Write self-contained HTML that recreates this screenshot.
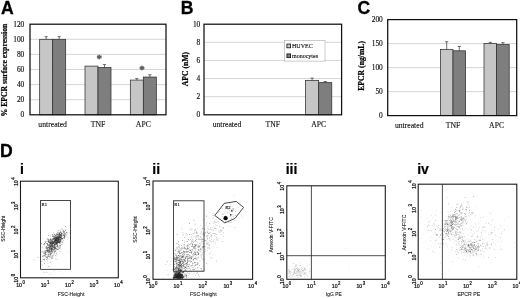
<!DOCTYPE html><html><head><meta charset="utf-8"><title>Figure</title><style>html,body{margin:0;padding:0;background:#fff}svg{display:block}.s{font-family:"Liberation Serif",serif}.a{font-family:"Liberation Sans",sans-serif}</style></head><body>
<svg width="520" height="298" viewBox="0 0 520 298">
<rect width="520" height="298" fill="#fff"/>
<text class="a" x="0.9" y="13.9" font-size="17.6" font-weight="bold" fill="#000" stroke="#000" stroke-width="0.3">A</text>
<line x1="30" y1="99.70" x2="166" y2="99.70" stroke="#c4c4c4" stroke-width="0.7"/>
<line x1="30" y1="84.60" x2="166" y2="84.60" stroke="#c4c4c4" stroke-width="0.7"/>
<line x1="30" y1="69.50" x2="166" y2="69.50" stroke="#c4c4c4" stroke-width="0.7"/>
<line x1="30" y1="54.40" x2="166" y2="54.40" stroke="#c4c4c4" stroke-width="0.7"/>
<line x1="30" y1="39.30" x2="166" y2="39.30" stroke="#c4c4c4" stroke-width="0.7"/>
<text class="s" x="24.3" y="117.40" font-size="7.4" text-anchor="end" fill="#111" stroke="#111" stroke-width="0.15">0</text>
<text class="s" x="24.3" y="102.30" font-size="7.4" text-anchor="end" fill="#111" stroke="#111" stroke-width="0.15">20</text>
<text class="s" x="24.3" y="87.20" font-size="7.4" text-anchor="end" fill="#111" stroke="#111" stroke-width="0.15">40</text>
<text class="s" x="24.3" y="72.10" font-size="7.4" text-anchor="end" fill="#111" stroke="#111" stroke-width="0.15">60</text>
<text class="s" x="24.3" y="57.00" font-size="7.4" text-anchor="end" fill="#111" stroke="#111" stroke-width="0.15">80</text>
<text class="s" x="24.3" y="41.90" font-size="7.4" text-anchor="end" fill="#111" stroke="#111" stroke-width="0.15">100</text>
<text class="s" x="24.3" y="26.80" font-size="7.4" text-anchor="end" fill="#111" stroke="#111" stroke-width="0.15">120</text>
<rect x="39.67" y="39.30" width="13" height="75.50" fill="#c6c6c6" stroke="#303030" stroke-width="0.75"/>
<path d="M46.17 39.30V36.66M44.57 36.66H47.77" stroke="#333" stroke-width="0.7" fill="none"/>
<rect x="52.67" y="39.30" width="13" height="75.50" fill="#7e7e7e" stroke="#303030" stroke-width="0.75"/>
<path d="M59.17 39.30V36.66M57.57 36.66H60.77" stroke="#333" stroke-width="0.7" fill="none"/>
<rect x="85.00" y="66.10" width="13" height="48.70" fill="#c6c6c6" stroke="#303030" stroke-width="0.75"/>
<rect x="98.00" y="67.61" width="13" height="47.19" fill="#7e7e7e" stroke="#303030" stroke-width="0.75"/>
<path d="M104.50 67.61V64.59M102.90 64.59H106.10" stroke="#333" stroke-width="0.7" fill="none"/>
<rect x="130.33" y="80.07" width="13" height="34.73" fill="#c6c6c6" stroke="#303030" stroke-width="0.75"/>
<path d="M136.83 80.07V78.56M135.23 78.56H138.43" stroke="#333" stroke-width="0.7" fill="none"/>
<rect x="143.33" y="77.05" width="13" height="37.75" fill="#7e7e7e" stroke="#303030" stroke-width="0.75"/>
<path d="M149.83 77.05V74.78M148.23 74.78H151.43" stroke="#333" stroke-width="0.7" fill="none"/>
<rect x="30" y="24.2" width="136" height="90.6" fill="none" stroke="#111" stroke-width="1.25"/>
<text class="s" x="52.67" y="127.00" font-size="7.7" text-anchor="middle" fill="#111" stroke="#111" stroke-width="0.12">untreated</text>
<text class="s" x="98.00" y="127.00" font-size="7.7" text-anchor="middle" fill="#111" stroke="#111" stroke-width="0.12">TNF</text>
<text class="s" x="143.33" y="127.00" font-size="7.7" text-anchor="middle" fill="#111" stroke="#111" stroke-width="0.12">APC</text>
<text class="s" transform="translate(6.8 70.05) rotate(-90)" font-size="7.7" font-weight="bold" text-anchor="middle" fill="#000" stroke="#000" stroke-width="0.2">% EPCR surface expression</text>
<text class="s" x="99.3" y="62.3" font-size="11" font-weight="bold" text-anchor="middle" fill="#4a4a4a" stroke="#4a4a4a" stroke-width="0.3">*</text>
<text class="s" x="142" y="72.9" font-size="11" font-weight="bold" text-anchor="middle" fill="#4a4a4a" stroke="#4a4a4a" stroke-width="0.3">*</text>
<text class="a" x="180.7" y="13.9" font-size="17.6" font-weight="bold" fill="#000" stroke="#000" stroke-width="0.3">B</text>
<line x1="204" y1="96.68" x2="341.6" y2="96.68" stroke="#c4c4c4" stroke-width="0.7"/>
<line x1="204" y1="78.56" x2="341.6" y2="78.56" stroke="#c4c4c4" stroke-width="0.7"/>
<line x1="204" y1="60.44" x2="341.6" y2="60.44" stroke="#c4c4c4" stroke-width="0.7"/>
<line x1="204" y1="42.32" x2="341.6" y2="42.32" stroke="#c4c4c4" stroke-width="0.7"/>
<text class="s" x="200.3" y="117.40" font-size="7.4" text-anchor="end" fill="#111" stroke="#111" stroke-width="0.15">0</text>
<text class="s" x="200.3" y="99.28" font-size="7.4" text-anchor="end" fill="#111" stroke="#111" stroke-width="0.15">2</text>
<text class="s" x="200.3" y="81.16" font-size="7.4" text-anchor="end" fill="#111" stroke="#111" stroke-width="0.15">4</text>
<text class="s" x="200.3" y="63.04" font-size="7.4" text-anchor="end" fill="#111" stroke="#111" stroke-width="0.15">6</text>
<text class="s" x="200.3" y="44.92" font-size="7.4" text-anchor="end" fill="#111" stroke="#111" stroke-width="0.15">8</text>
<text class="s" x="200.3" y="26.80" font-size="7.4" text-anchor="end" fill="#111" stroke="#111" stroke-width="0.15">10</text>
<rect x="305.57" y="80.37" width="13.1" height="34.43" fill="#c6c6c6" stroke="#303030" stroke-width="0.75"/>
<path d="M312.12 80.37V78.11M310.52 78.11H313.72" stroke="#333" stroke-width="0.7" fill="none"/>
<rect x="318.67" y="82.64" width="13.1" height="32.16" fill="#7e7e7e" stroke="#303030" stroke-width="0.75"/>
<path d="M325.22 82.64V81.55M323.62 81.55H326.82" stroke="#333" stroke-width="0.7" fill="none"/>
<rect x="204" y="24.2" width="137.60000000000002" height="90.6" fill="none" stroke="#111" stroke-width="1.25"/>
<text class="s" x="226.93" y="127.00" font-size="7.7" text-anchor="middle" fill="#111" stroke="#111" stroke-width="0.12">untreated</text>
<text class="s" x="272.80" y="127.00" font-size="7.7" text-anchor="middle" fill="#111" stroke="#111" stroke-width="0.12">TNF</text>
<text class="s" x="318.67" y="127.00" font-size="7.7" text-anchor="middle" fill="#111" stroke="#111" stroke-width="0.12">APC</text>
<text class="s" transform="translate(187.8 69.15) rotate(-90)" font-size="7.7" font-weight="bold" text-anchor="middle" fill="#000" stroke="#000" stroke-width="0.2">APC (nM)</text>
<rect x="284.3" y="40.6" width="40.7" height="20.5" fill="#fff" stroke="#aaa" stroke-width="0.6"/>
<rect x="286.9" y="44.1" width="3.7" height="3.7" fill="#c6c6c6" stroke="#111" stroke-width="0.8"/>
<rect x="286.9" y="53.9" width="3.7" height="3.7" fill="#7e7e7e" stroke="#111" stroke-width="0.8"/>
<text class="s" x="292" y="48" font-size="6" fill="#111" stroke="#111" stroke-width="0.12">HUVEC</text>
<text class="s" x="292" y="57.8" font-size="6" fill="#111" stroke="#111" stroke-width="0.12">monocytes</text>
<text class="a" x="357.4" y="13.9" font-size="17.6" font-weight="bold" fill="#000" stroke="#000" stroke-width="0.3">C</text>
<line x1="387.7" y1="91.60" x2="516.7" y2="91.60" stroke="#c4c4c4" stroke-width="0.7"/>
<line x1="387.7" y1="67.60" x2="516.7" y2="67.60" stroke="#c4c4c4" stroke-width="0.7"/>
<line x1="387.7" y1="43.60" x2="516.7" y2="43.60" stroke="#c4c4c4" stroke-width="0.7"/>
<text class="s" x="382.8" y="118.20" font-size="7.4" text-anchor="end" fill="#111" stroke="#111" stroke-width="0.15">0</text>
<text class="s" x="382.8" y="94.20" font-size="7.4" text-anchor="end" fill="#111" stroke="#111" stroke-width="0.15">50</text>
<text class="s" x="382.8" y="70.20" font-size="7.4" text-anchor="end" fill="#111" stroke="#111" stroke-width="0.15">100</text>
<text class="s" x="382.8" y="46.20" font-size="7.4" text-anchor="end" fill="#111" stroke="#111" stroke-width="0.15">150</text>
<text class="s" x="382.8" y="22.20" font-size="7.4" text-anchor="end" fill="#111" stroke="#111" stroke-width="0.15">200</text>
<rect x="440.40" y="49.36" width="12.6" height="66.24" fill="#c6c6c6" stroke="#303030" stroke-width="0.75"/>
<path d="M446.70 49.36V41.68M445.10 41.68H448.30" stroke="#333" stroke-width="0.7" fill="none"/>
<rect x="453.00" y="50.80" width="12.6" height="64.80" fill="#7e7e7e" stroke="#303030" stroke-width="0.75"/>
<path d="M459.30 50.80V46.48M457.70 46.48H460.90" stroke="#333" stroke-width="0.7" fill="none"/>
<rect x="484.00" y="43.60" width="12.6" height="72.00" fill="#c6c6c6" stroke="#303030" stroke-width="0.75"/>
<path d="M490.30 43.60V42.40M488.70 42.40H491.90" stroke="#333" stroke-width="0.7" fill="none"/>
<rect x="496.60" y="44.56" width="12.6" height="71.04" fill="#7e7e7e" stroke="#303030" stroke-width="0.75"/>
<path d="M502.90 44.56V42.64M501.30 42.64H504.50" stroke="#333" stroke-width="0.7" fill="none"/>
<rect x="387.7" y="19.6" width="129.00000000000006" height="96.0" fill="none" stroke="#111" stroke-width="1.25"/>
<text class="s" x="409.20" y="127.80" font-size="7.7" text-anchor="middle" fill="#111" stroke="#111" stroke-width="0.12">untreated</text>
<text class="s" x="453.00" y="127.80" font-size="7.7" text-anchor="middle" fill="#111" stroke="#111" stroke-width="0.12">TNF</text>
<text class="s" x="496.60" y="127.80" font-size="7.7" text-anchor="middle" fill="#111" stroke="#111" stroke-width="0.12">APC</text>
<text class="s" transform="translate(364 65.9) rotate(-90)" font-size="7.7" font-weight="bold" text-anchor="middle" fill="#000" stroke="#000" stroke-width="0.2">EPCR (ng/mL)</text>
<text class="a" x="-0.1" y="157.2" font-size="17.6" font-weight="bold" fill="#000" stroke="#000" stroke-width="0.3">D</text>
<text class="a" x="20.0" y="173.8" font-size="14" font-weight="bold" fill="#000" stroke="#000" stroke-width="0.2">i</text>
<text class="a" x="152.3" y="173.8" font-size="14" font-weight="bold" fill="#000" stroke="#000" stroke-width="0.2">ii</text>
<text class="a" x="285.7" y="173.8" font-size="14" font-weight="bold" fill="#000" stroke="#000" stroke-width="0.2">iii</text>
<text class="a" x="417.2" y="173.8" font-size="14" font-weight="bold" fill="#000" stroke="#000" stroke-width="0.2">iv</text>
<path fill="#222" opacity="0.125" d="M53.7 250.4h.7v.7h-.7zM54.1 246.2h.7v.7h-.7zM57.5 244.5h.7v.7h-.7zM74.3 241.0h.7v.7h-.7zM48.3 274.8h.7v.7h-.7zM49.4 274.1h.7v.7h-.7z"/>
<path fill="#222" opacity="0.25" d="M44.1 259.0h.7v.7h-.7zM52.6 248.8h.7v.7h-.7zM57.3 239.3h.7v.7h-.7zM50.5 239.0h.7v.7h-.7zM49.5 247.9h.7v.7h-.7zM50.6 241.5h.7v.7h-.7zM50.3 254.8h.7v.7h-.7zM52.2 248.1h.7v.7h-.7zM57.4 234.0h.7v.7h-.7zM44.4 251.5h.7v.7h-.7zM54.0 247.0h.7v.7h-.7zM52.5 258.5h.7v.7h-.7zM55.5 259.5h.7v.7h-.7zM52.0 248.4h.7v.7h-.7zM52.7 249.2h.7v.7h-.7zM56.2 252.9h.7v.7h-.7zM42.3 256.7h.7v.7h-.7zM51.3 238.7h.7v.7h-.7zM48.6 246.2h.7v.7h-.7zM51.0 241.7h.7v.7h-.7zM50.5 247.2h.7v.7h-.7zM49.2 242.1h.7v.7h-.7zM56.5 239.6h.7v.7h-.7zM49.6 246.5h.7v.7h-.7zM49.5 250.5h.7v.7h-.7zM58.5 246.4h.7v.7h-.7zM55.3 254.4h.7v.7h-.7zM58.9 250.5h.7v.7h-.7zM51.6 255.4h.7v.7h-.7zM54.6 246.5h.7v.7h-.7zM46.6 249.5h.7v.7h-.7zM45.6 248.2h.7v.7h-.7zM54.2 244.5h.7v.7h-.7zM59.6 244.3h.7v.7h-.7zM46.1 251.9h.7v.7h-.7zM49.8 251.7h.7v.7h-.7zM41.8 265.2h.7v.7h-.7zM55.3 250.4h.7v.7h-.7zM43.7 255.7h.7v.7h-.7zM57.4 241.4h.7v.7h-.7zM47.4 250.1h.7v.7h-.7zM52.3 239.8h.7v.7h-.7zM61.3 228.3h.7v.7h-.7zM44.6 253.1h.7v.7h-.7zM52.1 250.9h.7v.7h-.7zM55.8 243.4h.7v.7h-.7zM46.6 246.7h.7v.7h-.7zM41.0 261.3h.7v.7h-.7zM41.2 253.6h.7v.7h-.7zM44.7 243.8h.7v.7h-.7zM41.9 237.9h.7v.7h-.7zM52.8 251.3h.7v.7h-.7zM61.4 244.1h.7v.7h-.7zM68.5 251.7h.7v.7h-.7zM41.6 263.7h.7v.7h-.7zM49.3 244.7h.7v.7h-.7zM63.6 242.7h.7v.7h-.7zM52.1 248.7h.7v.7h-.7zM45.8 253.9h.7v.7h-.7zM56.0 256.4h.7v.7h-.7zM62.5 253.8h.7v.7h-.7zM58.9 271.6h.7v.7h-.7zM50.8 245.8h.7v.7h-.7zM42.1 251.6h.7v.7h-.7zM47.1 272.1h.7v.7h-.7zM62.8 273.4h.7v.7h-.7zM49.5 271.9h.7v.7h-.7zM51.1 274.2h.7v.7h-.7zM46.5 271.6h.7v.7h-.7zM45.2 272.6h.7v.7h-.7zM53.7 270.5h.7v.7h-.7z"/>
<path fill="#222" opacity="0.375" d="M61.4 235.7h.7v.7h-.7zM55.0 241.4h.7v.7h-.7zM51.0 248.1h.7v.7h-.7zM60.5 238.5h.7v.7h-.7zM54.1 244.0h.7v.7h-.7zM54.7 240.2h.7v.7h-.7zM60.2 237.4h.7v.7h-.7zM52.1 244.8h.7v.7h-.7zM56.3 237.6h.7v.7h-.7zM52.2 243.4h.7v.7h-.7zM49.4 241.4h.7v.7h-.7zM53.8 241.5h.7v.7h-.7zM57.8 241.7h.7v.7h-.7zM48.4 245.5h.7v.7h-.7zM59.4 237.4h.7v.7h-.7zM51.2 241.7h.7v.7h-.7zM59.5 237.9h.7v.7h-.7zM55.3 237.7h.7v.7h-.7zM49.3 244.3h.7v.7h-.7zM59.3 236.7h.7v.7h-.7zM47.5 249.9h.7v.7h-.7zM54.0 243.7h.7v.7h-.7zM57.1 240.8h.7v.7h-.7zM56.3 242.6h.7v.7h-.7zM59.6 240.1h.7v.7h-.7zM50.1 242.4h.7v.7h-.7zM56.6 243.6h.7v.7h-.7zM64.9 229.4h.7v.7h-.7zM58.6 234.6h.7v.7h-.7zM56.2 245.9h.7v.7h-.7zM52.7 236.3h.7v.7h-.7zM53.9 243.3h.7v.7h-.7zM49.2 245.1h.7v.7h-.7zM52.9 240.6h.7v.7h-.7zM58.7 238.8h.7v.7h-.7zM51.8 245.3h.7v.7h-.7zM52.8 240.6h.7v.7h-.7zM57.4 239.2h.7v.7h-.7zM53.8 249.3h.7v.7h-.7zM55.9 234.2h.7v.7h-.7zM56.2 242.3h.7v.7h-.7zM56.8 240.3h.7v.7h-.7zM44.6 242.6h.7v.7h-.7zM53.6 233.8h.7v.7h-.7zM49.9 244.5h.7v.7h-.7zM58.5 236.7h.7v.7h-.7zM52.0 243.5h.7v.7h-.7zM64.4 232.7h.7v.7h-.7zM54.4 241.7h.7v.7h-.7zM52.1 250.0h.7v.7h-.7zM52.6 243.2h.7v.7h-.7zM55.3 239.9h.7v.7h-.7zM60.1 243.3h.7v.7h-.7zM63.8 234.0h.7v.7h-.7zM56.3 242.3h.7v.7h-.7zM59.9 240.6h.7v.7h-.7zM57.5 237.2h.7v.7h-.7zM57.1 239.3h.7v.7h-.7zM62.3 228.9h.7v.7h-.7zM57.5 239.9h.7v.7h-.7zM52.1 234.0h.7v.7h-.7zM65.3 234.0h.7v.7h-.7zM60.5 240.0h.7v.7h-.7zM58.9 240.2h.7v.7h-.7zM56.3 244.2h.7v.7h-.7zM45.6 251.2h.7v.7h-.7zM59.9 234.2h.7v.7h-.7zM55.4 239.9h.7v.7h-.7zM53.4 238.8h.7v.7h-.7zM55.9 251.9h.7v.7h-.7zM52.3 255.6h.7v.7h-.7zM41.7 246.7h.7v.7h-.7zM50.3 248.4h.7v.7h-.7zM47.6 252.5h.7v.7h-.7zM46.5 250.5h.7v.7h-.7zM57.8 247.9h.7v.7h-.7zM44.6 256.1h.7v.7h-.7zM51.0 248.9h.7v.7h-.7zM48.5 255.0h.7v.7h-.7zM61.9 228.6h.7v.7h-.7zM54.2 244.2h.7v.7h-.7zM48.7 246.8h.7v.7h-.7zM53.9 247.7h.7v.7h-.7zM44.0 250.6h.7v.7h-.7zM44.7 246.6h.7v.7h-.7zM51.8 251.1h.7v.7h-.7zM51.3 245.2h.7v.7h-.7zM48.8 244.0h.7v.7h-.7zM55.6 249.9h.7v.7h-.7zM43.5 251.6h.7v.7h-.7zM48.4 242.0h.7v.7h-.7zM41.9 260.8h.7v.7h-.7zM59.3 248.3h.7v.7h-.7zM47.8 238.6h.7v.7h-.7zM59.0 242.9h.7v.7h-.7zM47.9 244.9h.7v.7h-.7zM58.5 233.3h.7v.7h-.7zM46.6 257.3h.7v.7h-.7zM49.2 249.3h.7v.7h-.7zM54.4 252.9h.7v.7h-.7zM52.9 242.9h.7v.7h-.7zM54.4 240.5h.7v.7h-.7zM45.4 256.0h.7v.7h-.7zM53.1 246.9h.7v.7h-.7zM48.5 253.4h.7v.7h-.7zM51.2 251.6h.7v.7h-.7zM56.7 259.4h.7v.7h-.7zM48.0 246.9h.7v.7h-.7zM44.4 258.4h.7v.7h-.7zM45.2 254.6h.7v.7h-.7zM47.1 251.9h.7v.7h-.7zM42.6 251.1h.7v.7h-.7zM46.3 259.4h.7v.7h-.7zM49.7 248.1h.7v.7h-.7zM52.8 246.8h.7v.7h-.7zM50.0 251.6h.7v.7h-.7zM42.6 259.0h.7v.7h-.7zM54.9 247.7h.7v.7h-.7zM49.4 243.5h.7v.7h-.7zM54.0 248.4h.7v.7h-.7zM57.9 240.5h.7v.7h-.7zM47.6 263.4h.7v.7h-.7zM54.2 240.5h.7v.7h-.7zM44.1 255.3h.7v.7h-.7zM50.8 249.7h.7v.7h-.7zM42.8 248.4h.7v.7h-.7zM56.6 253.0h.7v.7h-.7zM51.7 246.7h.7v.7h-.7zM49.2 239.1h.7v.7h-.7zM42.0 246.8h.7v.7h-.7zM49.8 254.0h.7v.7h-.7zM46.4 248.6h.7v.7h-.7zM57.2 246.0h.7v.7h-.7zM54.8 245.9h.7v.7h-.7zM51.7 248.5h.7v.7h-.7zM52.6 250.1h.7v.7h-.7zM49.9 235.6h.7v.7h-.7zM48.8 259.3h.7v.7h-.7zM58.8 242.2h.7v.7h-.7zM55.8 242.7h.7v.7h-.7zM45.0 252.3h.7v.7h-.7zM49.3 246.9h.7v.7h-.7zM54.1 238.5h.7v.7h-.7zM60.3 243.0h.7v.7h-.7zM50.7 247.1h.7v.7h-.7zM49.7 247.0h.7v.7h-.7zM55.2 244.5h.7v.7h-.7zM44.6 252.1h.7v.7h-.7zM56.4 240.5h.7v.7h-.7zM43.3 256.3h.7v.7h-.7zM46.1 254.1h.7v.7h-.7zM53.6 250.0h.7v.7h-.7zM45.9 256.5h.7v.7h-.7zM52.1 247.9h.7v.7h-.7zM47.8 249.7h.7v.7h-.7zM33.5 259.7h.7v.7h-.7zM54.3 249.5h.7v.7h-.7zM51.0 242.7h.7v.7h-.7zM47.2 257.7h.7v.7h-.7zM47.8 249.0h.7v.7h-.7zM55.6 258.1h.7v.7h-.7zM56.5 245.4h.7v.7h-.7zM56.6 250.5h.7v.7h-.7zM49.2 247.7h.7v.7h-.7zM53.2 247.3h.7v.7h-.7zM43.8 272.2h.7v.7h-.7zM46.8 255.2h.7v.7h-.7zM52.8 244.9h.7v.7h-.7zM53.7 243.3h.7v.7h-.7zM52.4 246.3h.7v.7h-.7zM53.7 246.4h.7v.7h-.7zM56.8 248.8h.7v.7h-.7zM59.3 247.1h.7v.7h-.7zM57.4 246.2h.7v.7h-.7z"/>
<path fill="#222" opacity="0.5" d="M64.8 232.7h.7v.7h-.7zM58.1 239.0h.7v.7h-.7zM57.7 238.5h.7v.7h-.7zM52.6 239.9h.7v.7h-.7zM51.3 242.6h.7v.7h-.7zM55.2 235.3h.7v.7h-.7zM60.9 235.3h.7v.7h-.7zM58.5 239.0h.7v.7h-.7zM57.8 240.0h.7v.7h-.7zM56.2 239.6h.7v.7h-.7zM58.3 233.9h.7v.7h-.7zM60.1 237.5h.7v.7h-.7zM60.2 234.1h.7v.7h-.7zM57.6 241.6h.7v.7h-.7zM56.2 234.2h.7v.7h-.7zM59.6 236.6h.7v.7h-.7zM55.2 242.5h.7v.7h-.7zM54.1 237.7h.7v.7h-.7zM61.3 232.4h.7v.7h-.7zM61.7 233.3h.7v.7h-.7zM56.3 237.3h.7v.7h-.7zM52.8 242.1h.7v.7h-.7zM60.0 229.6h.7v.7h-.7zM55.7 242.1h.7v.7h-.7zM55.6 240.5h.7v.7h-.7zM57.2 240.3h.7v.7h-.7zM59.1 237.4h.7v.7h-.7zM56.7 244.8h.7v.7h-.7zM53.6 242.3h.7v.7h-.7zM53.3 238.0h.7v.7h-.7zM47.1 239.6h.7v.7h-.7zM56.9 241.5h.7v.7h-.7zM57.1 238.9h.7v.7h-.7zM57.8 235.5h.7v.7h-.7zM51.1 239.8h.7v.7h-.7zM56.8 240.4h.7v.7h-.7zM51.5 239.4h.7v.7h-.7zM65.0 235.6h.7v.7h-.7zM53.6 243.2h.7v.7h-.7zM59.1 233.0h.7v.7h-.7zM56.4 241.3h.7v.7h-.7zM64.3 235.3h.7v.7h-.7zM58.4 236.2h.7v.7h-.7zM58.3 239.3h.7v.7h-.7zM58.9 234.5h.7v.7h-.7zM55.8 241.3h.7v.7h-.7zM52.0 243.4h.7v.7h-.7zM57.0 236.8h.7v.7h-.7zM57.0 240.5h.7v.7h-.7zM51.8 242.4h.7v.7h-.7zM55.5 240.0h.7v.7h-.7zM58.2 234.8h.7v.7h-.7zM52.6 240.0h.7v.7h-.7zM48.0 240.9h.7v.7h-.7zM53.7 237.9h.7v.7h-.7zM47.4 241.2h.7v.7h-.7zM54.5 243.7h.7v.7h-.7zM56.4 239.6h.7v.7h-.7zM58.6 236.6h.7v.7h-.7zM56.8 238.6h.7v.7h-.7zM47.1 249.4h.7v.7h-.7zM54.5 236.5h.7v.7h-.7zM53.2 239.0h.7v.7h-.7zM64.1 236.2h.7v.7h-.7zM58.4 239.9h.7v.7h-.7zM56.9 238.4h.7v.7h-.7zM57.6 235.2h.7v.7h-.7zM50.1 243.1h.7v.7h-.7zM55.4 241.9h.7v.7h-.7zM56.6 239.7h.7v.7h-.7zM54.0 239.8h.7v.7h-.7zM56.3 243.8h.7v.7h-.7zM58.1 234.9h.7v.7h-.7zM54.4 244.5h.7v.7h-.7zM62.6 238.3h.7v.7h-.7zM55.0 236.9h.7v.7h-.7zM64.0 237.9h.7v.7h-.7zM58.0 236.6h.7v.7h-.7zM49.0 240.1h.7v.7h-.7zM52.5 247.4h.7v.7h-.7zM54.6 237.4h.7v.7h-.7zM49.7 243.6h.7v.7h-.7zM57.2 238.6h.7v.7h-.7zM57.3 237.3h.7v.7h-.7zM55.7 241.5h.7v.7h-.7zM65.6 236.2h.7v.7h-.7zM51.8 243.5h.7v.7h-.7zM45.7 247.8h.7v.7h-.7zM48.9 242.0h.7v.7h-.7zM57.3 240.2h.7v.7h-.7zM55.2 236.4h.7v.7h-.7zM46.0 242.9h.7v.7h-.7zM56.4 238.9h.7v.7h-.7zM53.0 238.3h.7v.7h-.7zM66.0 234.6h.7v.7h-.7zM56.5 234.8h.7v.7h-.7zM59.4 236.6h.7v.7h-.7zM53.6 238.9h.7v.7h-.7zM51.0 247.4h.7v.7h-.7zM52.6 239.0h.7v.7h-.7zM56.3 239.6h.7v.7h-.7zM60.0 239.6h.7v.7h-.7zM55.0 235.9h.7v.7h-.7zM55.4 243.1h.7v.7h-.7zM57.5 236.5h.7v.7h-.7zM58.3 239.1h.7v.7h-.7zM55.8 243.9h.7v.7h-.7zM48.2 240.4h.7v.7h-.7zM55.8 241.0h.7v.7h-.7zM52.0 246.6h.7v.7h-.7zM59.9 234.1h.7v.7h-.7zM55.7 236.7h.7v.7h-.7zM62.3 242.5h.7v.7h-.7zM64.0 236.4h.7v.7h-.7zM58.0 241.6h.7v.7h-.7zM62.6 233.0h.7v.7h-.7zM61.0 233.1h.7v.7h-.7zM58.5 238.4h.7v.7h-.7zM55.1 237.4h.7v.7h-.7zM60.2 231.8h.7v.7h-.7zM58.4 234.2h.7v.7h-.7zM61.1 236.0h.7v.7h-.7zM48.5 240.0h.7v.7h-.7zM55.8 242.7h.7v.7h-.7zM54.8 240.8h.7v.7h-.7zM48.5 239.5h.7v.7h-.7zM52.8 250.6h.7v.7h-.7zM51.1 246.0h.7v.7h-.7zM37.6 257.3h.7v.7h-.7zM55.0 242.6h.7v.7h-.7zM58.6 230.0h.7v.7h-.7zM41.4 251.6h.7v.7h-.7zM49.3 255.9h.7v.7h-.7zM49.4 256.5h.7v.7h-.7zM55.8 236.9h.7v.7h-.7zM45.3 250.9h.7v.7h-.7zM47.5 238.8h.7v.7h-.7zM44.3 243.5h.7v.7h-.7zM51.7 240.7h.7v.7h-.7zM44.5 252.6h.7v.7h-.7zM48.9 245.9h.7v.7h-.7zM52.9 243.2h.7v.7h-.7zM45.9 248.4h.7v.7h-.7zM51.7 249.6h.7v.7h-.7zM50.9 244.8h.7v.7h-.7zM49.1 242.5h.7v.7h-.7zM50.8 243.5h.7v.7h-.7zM50.5 251.3h.7v.7h-.7zM46.6 248.6h.7v.7h-.7zM58.9 237.0h.7v.7h-.7zM59.2 241.0h.7v.7h-.7zM55.2 247.3h.7v.7h-.7zM55.9 241.1h.7v.7h-.7zM44.7 255.3h.7v.7h-.7zM56.9 240.6h.7v.7h-.7zM56.7 245.3h.7v.7h-.7zM51.4 250.0h.7v.7h-.7zM50.1 246.3h.7v.7h-.7zM48.2 250.2h.7v.7h-.7zM54.1 251.3h.7v.7h-.7zM47.4 248.9h.7v.7h-.7zM57.3 249.2h.7v.7h-.7zM42.7 254.9h.7v.7h-.7zM45.4 253.7h.7v.7h-.7zM54.8 250.9h.7v.7h-.7zM50.0 256.6h.7v.7h-.7zM50.2 237.8h.7v.7h-.7zM58.2 238.2h.7v.7h-.7zM44.6 251.1h.7v.7h-.7zM48.3 256.1h.7v.7h-.7zM51.0 250.6h.7v.7h-.7zM52.6 243.8h.7v.7h-.7zM48.8 254.0h.7v.7h-.7zM47.8 250.6h.7v.7h-.7zM47.8 256.2h.7v.7h-.7zM53.0 232.5h.7v.7h-.7zM59.4 235.5h.7v.7h-.7zM54.5 247.2h.7v.7h-.7zM55.6 248.7h.7v.7h-.7zM54.2 252.7h.7v.7h-.7zM56.1 240.4h.7v.7h-.7zM62.4 241.1h.7v.7h-.7zM50.2 254.2h.7v.7h-.7zM61.6 238.3h.7v.7h-.7zM54.1 241.3h.7v.7h-.7zM49.2 244.1h.7v.7h-.7zM53.4 242.9h.7v.7h-.7zM57.1 244.8h.7v.7h-.7zM56.6 254.5h.7v.7h-.7zM49.6 252.6h.7v.7h-.7zM45.3 251.9h.7v.7h-.7zM44.9 252.4h.7v.7h-.7zM54.1 248.6h.7v.7h-.7zM59.6 247.8h.7v.7h-.7zM46.9 247.2h.7v.7h-.7zM60.6 238.3h.7v.7h-.7zM43.3 244.1h.7v.7h-.7zM57.8 247.2h.7v.7h-.7zM57.4 249.0h.7v.7h-.7zM55.2 245.7h.7v.7h-.7zM47.5 250.3h.7v.7h-.7zM48.3 252.3h.7v.7h-.7zM51.1 252.8h.7v.7h-.7zM57.0 241.6h.7v.7h-.7zM53.9 240.6h.7v.7h-.7zM54.6 247.2h.7v.7h-.7zM50.5 238.2h.7v.7h-.7zM53.5 253.7h.7v.7h-.7zM47.9 254.0h.7v.7h-.7zM54.5 247.5h.7v.7h-.7zM55.2 244.8h.7v.7h-.7zM60.4 232.2h.7v.7h-.7zM45.4 250.6h.7v.7h-.7zM49.1 256.0h.7v.7h-.7zM43.5 255.0h.7v.7h-.7zM51.6 249.4h.7v.7h-.7zM53.9 251.2h.7v.7h-.7zM49.3 250.6h.7v.7h-.7zM50.0 249.2h.7v.7h-.7zM44.6 261.6h.7v.7h-.7zM49.7 245.6h.7v.7h-.7zM48.5 240.9h.7v.7h-.7zM47.0 260.8h.7v.7h-.7zM55.0 247.6h.7v.7h-.7zM52.2 250.9h.7v.7h-.7zM54.0 252.1h.7v.7h-.7zM59.8 236.4h.7v.7h-.7zM52.5 255.5h.7v.7h-.7zM45.1 250.2h.7v.7h-.7zM45.8 250.7h.7v.7h-.7zM61.3 235.2h.7v.7h-.7zM51.6 246.1h.7v.7h-.7zM60.6 241.5h.7v.7h-.7z"/>
<path fill="#222" opacity="0.625" d="M61.6 236.0h.7v.7h-.7zM52.3 241.0h.7v.7h-.7zM50.4 242.9h.7v.7h-.7zM57.7 230.7h.7v.7h-.7zM59.2 238.4h.7v.7h-.7zM56.8 238.0h.7v.7h-.7zM57.2 236.4h.7v.7h-.7zM56.3 239.8h.7v.7h-.7zM57.8 241.3h.7v.7h-.7zM55.1 240.5h.7v.7h-.7zM48.4 239.3h.7v.7h-.7zM60.4 231.2h.7v.7h-.7zM59.8 235.2h.7v.7h-.7zM61.4 233.3h.7v.7h-.7zM58.4 235.5h.7v.7h-.7zM46.6 245.6h.7v.7h-.7zM59.2 234.4h.7v.7h-.7zM55.3 240.4h.7v.7h-.7zM52.2 242.6h.7v.7h-.7zM52.7 235.2h.7v.7h-.7zM51.1 242.1h.7v.7h-.7zM52.7 239.5h.7v.7h-.7zM58.2 238.9h.7v.7h-.7zM62.4 241.9h.7v.7h-.7zM60.0 238.9h.7v.7h-.7zM55.7 239.5h.7v.7h-.7zM62.9 234.6h.7v.7h-.7zM64.9 233.5h.7v.7h-.7zM56.9 240.8h.7v.7h-.7zM56.2 236.1h.7v.7h-.7zM56.6 236.0h.7v.7h-.7zM54.1 242.3h.7v.7h-.7zM54.2 244.5h.7v.7h-.7zM56.8 240.6h.7v.7h-.7zM59.1 241.3h.7v.7h-.7zM56.1 237.9h.7v.7h-.7zM58.4 237.6h.7v.7h-.7zM54.0 237.7h.7v.7h-.7zM60.5 234.5h.7v.7h-.7zM51.5 244.1h.7v.7h-.7zM63.6 236.8h.7v.7h-.7zM60.9 234.8h.7v.7h-.7zM56.9 242.3h.7v.7h-.7zM61.5 234.1h.7v.7h-.7zM53.5 242.3h.7v.7h-.7zM57.6 237.3h.7v.7h-.7zM56.7 243.4h.7v.7h-.7zM54.3 237.9h.7v.7h-.7zM58.0 241.4h.7v.7h-.7zM57.8 238.9h.7v.7h-.7zM56.2 240.3h.7v.7h-.7zM60.1 236.3h.7v.7h-.7zM57.6 246.6h.7v.7h-.7zM58.4 239.7h.7v.7h-.7zM56.4 233.4h.7v.7h-.7zM61.1 235.7h.7v.7h-.7zM57.9 236.7h.7v.7h-.7zM56.7 238.6h.7v.7h-.7zM54.7 242.9h.7v.7h-.7zM58.1 238.4h.7v.7h-.7zM46.0 246.0h.7v.7h-.7zM61.3 240.5h.7v.7h-.7zM58.2 238.2h.7v.7h-.7zM61.7 238.6h.7v.7h-.7zM51.1 248.0h.7v.7h-.7zM66.2 232.0h.7v.7h-.7zM58.5 239.6h.7v.7h-.7zM52.1 246.3h.7v.7h-.7zM54.9 241.6h.7v.7h-.7zM54.8 241.0h.7v.7h-.7zM56.1 237.8h.7v.7h-.7zM55.7 238.4h.7v.7h-.7zM61.3 234.0h.7v.7h-.7zM51.7 241.7h.7v.7h-.7zM60.2 240.3h.7v.7h-.7zM58.7 232.4h.7v.7h-.7zM60.2 240.1h.7v.7h-.7zM50.3 247.0h.7v.7h-.7zM57.9 242.4h.7v.7h-.7zM50.2 239.1h.7v.7h-.7zM58.6 240.1h.7v.7h-.7zM55.1 240.1h.7v.7h-.7zM58.6 241.1h.7v.7h-.7zM53.9 241.1h.7v.7h-.7zM55.2 235.1h.7v.7h-.7zM50.4 245.5h.7v.7h-.7zM61.5 237.9h.7v.7h-.7zM51.7 236.4h.7v.7h-.7zM48.8 244.6h.7v.7h-.7zM51.4 240.0h.7v.7h-.7zM53.1 240.9h.7v.7h-.7zM51.5 245.9h.7v.7h-.7zM49.6 241.3h.7v.7h-.7zM60.3 240.6h.7v.7h-.7zM55.8 240.4h.7v.7h-.7zM53.2 243.4h.7v.7h-.7zM56.9 236.6h.7v.7h-.7zM57.8 241.0h.7v.7h-.7zM49.1 245.8h.7v.7h-.7zM57.3 240.4h.7v.7h-.7zM51.5 244.7h.7v.7h-.7zM56.8 236.1h.7v.7h-.7zM60.7 234.5h.7v.7h-.7zM54.6 244.3h.7v.7h-.7zM55.3 238.1h.7v.7h-.7zM57.4 244.9h.7v.7h-.7zM52.9 242.9h.7v.7h-.7zM46.7 248.2h.7v.7h-.7zM51.5 248.1h.7v.7h-.7zM51.3 253.3h.7v.7h-.7zM52.8 245.6h.7v.7h-.7zM49.1 251.1h.7v.7h-.7zM51.8 245.4h.7v.7h-.7zM51.2 247.7h.7v.7h-.7zM59.5 239.8h.7v.7h-.7zM47.3 248.3h.7v.7h-.7zM47.8 254.5h.7v.7h-.7zM51.5 242.1h.7v.7h-.7zM46.8 256.7h.7v.7h-.7zM50.5 246.3h.7v.7h-.7zM55.2 254.9h.7v.7h-.7zM57.3 243.4h.7v.7h-.7zM55.3 250.9h.7v.7h-.7zM60.4 241.5h.7v.7h-.7zM49.7 251.0h.7v.7h-.7zM66.0 232.2h.7v.7h-.7zM54.2 234.4h.7v.7h-.7zM59.6 239.5h.7v.7h-.7zM49.4 248.2h.7v.7h-.7zM59.7 251.5h.7v.7h-.7zM63.2 240.4h.7v.7h-.7zM54.4 247.2h.7v.7h-.7zM50.7 246.0h.7v.7h-.7zM58.7 247.9h.7v.7h-.7zM56.3 249.4h.7v.7h-.7zM48.8 247.6h.7v.7h-.7zM51.1 258.2h.7v.7h-.7zM47.7 251.0h.7v.7h-.7zM45.9 247.1h.7v.7h-.7zM57.5 245.6h.7v.7h-.7zM57.2 246.2h.7v.7h-.7zM48.7 254.6h.7v.7h-.7zM46.7 238.4h.7v.7h-.7zM50.5 246.5h.7v.7h-.7zM57.3 243.5h.7v.7h-.7zM42.8 251.9h.7v.7h-.7zM54.7 242.8h.7v.7h-.7zM48.7 254.8h.7v.7h-.7zM44.2 244.6h.7v.7h-.7zM43.1 259.1h.7v.7h-.7zM51.8 256.8h.7v.7h-.7zM51.9 257.7h.7v.7h-.7zM44.2 254.9h.7v.7h-.7zM50.0 261.7h.7v.7h-.7zM50.4 254.8h.7v.7h-.7zM52.6 238.6h.7v.7h-.7zM49.8 241.0h.7v.7h-.7zM53.4 246.7h.7v.7h-.7zM47.8 245.2h.7v.7h-.7zM53.6 250.5h.7v.7h-.7zM44.1 260.4h.7v.7h-.7zM55.1 247.2h.7v.7h-.7zM48.3 251.5h.7v.7h-.7zM47.5 244.8h.7v.7h-.7zM53.7 245.8h.7v.7h-.7zM52.2 249.0h.7v.7h-.7zM44.9 240.9h.7v.7h-.7zM46.9 257.5h.7v.7h-.7zM53.8 237.7h.7v.7h-.7zM54.7 243.7h.7v.7h-.7zM48.7 247.1h.7v.7h-.7zM47.5 258.5h.7v.7h-.7zM44.2 263.0h.7v.7h-.7zM49.0 250.3h.7v.7h-.7zM50.9 250.6h.7v.7h-.7zM48.6 242.2h.7v.7h-.7zM43.9 259.0h.7v.7h-.7zM65.2 230.3h.7v.7h-.7zM60.9 235.2h.7v.7h-.7zM59.0 238.9h.7v.7h-.7zM51.3 250.8h.7v.7h-.7zM45.9 241.0h.7v.7h-.7zM50.7 251.4h.7v.7h-.7zM49.8 248.0h.7v.7h-.7zM58.8 234.4h.7v.7h-.7zM49.7 246.5h.7v.7h-.7zM54.1 240.8h.7v.7h-.7zM53.5 244.7h.7v.7h-.7zM48.8 250.9h.7v.7h-.7zM47.5 250.5h.7v.7h-.7zM50.8 240.8h.7v.7h-.7zM48.3 247.5h.7v.7h-.7zM53.8 249.1h.7v.7h-.7zM50.6 244.5h.7v.7h-.7zM50.6 257.3h.7v.7h-.7zM41.2 243.0h.7v.7h-.7zM55.3 248.5h.7v.7h-.7zM45.6 252.0h.7v.7h-.7zM42.1 256.0h.7v.7h-.7zM47.8 251.8h.7v.7h-.7zM53.2 245.4h.7v.7h-.7zM46.5 243.3h.7v.7h-.7zM49.7 252.9h.7v.7h-.7zM52.2 234.0h.7v.7h-.7zM52.8 255.6h.7v.7h-.7zM47.4 244.5h.7v.7h-.7zM54.3 247.5h.7v.7h-.7zM47.8 249.5h.7v.7h-.7zM51.5 256.5h.7v.7h-.7zM53.1 247.5h.7v.7h-.7z"/>
<path fill="#222" opacity="0.75" d="M56.0 241.6h.7v.7h-.7zM56.1 237.6h.7v.7h-.7zM60.5 237.7h.7v.7h-.7zM50.1 240.6h.7v.7h-.7zM57.5 236.0h.7v.7h-.7zM54.9 239.9h.7v.7h-.7zM57.0 242.2h.7v.7h-.7zM57.6 239.0h.7v.7h-.7zM58.7 241.1h.7v.7h-.7zM52.4 239.5h.7v.7h-.7zM63.6 230.9h.7v.7h-.7zM58.2 239.8h.7v.7h-.7zM56.6 241.7h.7v.7h-.7zM60.1 239.2h.7v.7h-.7zM54.7 236.9h.7v.7h-.7zM47.2 250.1h.7v.7h-.7zM62.1 238.2h.7v.7h-.7zM66.6 232.6h.7v.7h-.7zM56.8 234.1h.7v.7h-.7zM57.7 239.0h.7v.7h-.7zM57.5 232.1h.7v.7h-.7zM53.5 237.1h.7v.7h-.7zM58.3 237.2h.7v.7h-.7zM59.0 233.6h.7v.7h-.7zM64.3 235.4h.7v.7h-.7zM50.4 242.0h.7v.7h-.7zM54.8 239.9h.7v.7h-.7zM54.6 238.8h.7v.7h-.7zM50.4 246.3h.7v.7h-.7zM59.1 238.8h.7v.7h-.7zM59.6 237.1h.7v.7h-.7zM58.3 236.5h.7v.7h-.7zM53.7 238.3h.7v.7h-.7zM55.5 242.8h.7v.7h-.7zM59.0 236.2h.7v.7h-.7zM61.0 237.6h.7v.7h-.7zM57.2 238.7h.7v.7h-.7zM58.5 234.7h.7v.7h-.7zM52.6 238.2h.7v.7h-.7zM58.6 242.2h.7v.7h-.7zM47.4 250.9h.7v.7h-.7zM60.9 243.9h.7v.7h-.7zM57.8 240.5h.7v.7h-.7zM55.7 239.2h.7v.7h-.7zM52.9 241.2h.7v.7h-.7zM52.5 235.5h.7v.7h-.7zM59.1 237.8h.7v.7h-.7zM52.5 245.9h.7v.7h-.7zM52.6 236.4h.7v.7h-.7zM51.9 242.6h.7v.7h-.7zM64.0 237.7h.7v.7h-.7zM58.4 242.2h.7v.7h-.7zM55.3 242.3h.7v.7h-.7zM61.4 234.6h.7v.7h-.7zM57.2 237.7h.7v.7h-.7zM61.7 235.0h.7v.7h-.7zM50.7 242.6h.7v.7h-.7zM56.5 242.9h.7v.7h-.7zM55.5 240.6h.7v.7h-.7zM53.3 242.8h.7v.7h-.7zM55.0 240.8h.7v.7h-.7zM60.3 236.7h.7v.7h-.7zM69.7 232.6h.7v.7h-.7zM59.4 241.0h.7v.7h-.7zM57.9 239.2h.7v.7h-.7zM56.4 240.0h.7v.7h-.7zM52.1 242.6h.7v.7h-.7zM48.7 250.3h.7v.7h-.7zM59.5 232.1h.7v.7h-.7zM64.1 231.7h.7v.7h-.7zM60.1 236.4h.7v.7h-.7zM50.2 239.2h.7v.7h-.7zM49.9 242.1h.7v.7h-.7zM51.7 239.4h.7v.7h-.7zM55.4 239.1h.7v.7h-.7zM57.7 232.7h.7v.7h-.7zM58.1 238.6h.7v.7h-.7zM56.8 241.4h.7v.7h-.7zM54.2 241.7h.7v.7h-.7zM63.9 234.7h.7v.7h-.7zM53.3 236.6h.7v.7h-.7zM57.2 234.1h.7v.7h-.7zM59.9 239.1h.7v.7h-.7zM52.3 247.4h.7v.7h-.7zM51.5 247.5h.7v.7h-.7zM50.7 243.3h.7v.7h-.7zM57.2 241.2h.7v.7h-.7zM51.6 241.3h.7v.7h-.7zM52.1 246.1h.7v.7h-.7zM56.6 237.2h.7v.7h-.7zM51.5 245.4h.7v.7h-.7zM57.5 237.9h.7v.7h-.7zM55.2 240.0h.7v.7h-.7zM56.7 238.5h.7v.7h-.7zM59.5 233.5h.7v.7h-.7zM49.8 242.2h.7v.7h-.7zM52.3 243.2h.7v.7h-.7zM50.8 249.6h.7v.7h-.7zM57.8 249.2h.7v.7h-.7zM55.1 250.7h.7v.7h-.7zM51.8 247.7h.7v.7h-.7zM47.6 244.3h.7v.7h-.7zM45.0 242.2h.7v.7h-.7zM59.3 245.5h.7v.7h-.7zM51.4 248.3h.7v.7h-.7zM51.6 246.0h.7v.7h-.7zM48.5 266.1h.7v.7h-.7zM55.3 248.2h.7v.7h-.7zM49.4 249.2h.7v.7h-.7zM61.4 239.0h.7v.7h-.7zM49.1 249.2h.7v.7h-.7zM59.9 246.6h.7v.7h-.7zM45.0 253.6h.7v.7h-.7zM50.7 253.8h.7v.7h-.7zM56.9 237.3h.7v.7h-.7zM54.2 246.1h.7v.7h-.7zM51.3 244.8h.7v.7h-.7zM46.0 259.4h.7v.7h-.7zM47.7 249.8h.7v.7h-.7zM43.6 253.3h.7v.7h-.7zM46.9 243.9h.7v.7h-.7zM45.8 257.2h.7v.7h-.7zM54.6 247.7h.7v.7h-.7zM51.1 248.9h.7v.7h-.7zM50.3 243.2h.7v.7h-.7zM54.4 240.7h.7v.7h-.7zM53.7 249.4h.7v.7h-.7zM52.5 251.9h.7v.7h-.7zM48.8 245.4h.7v.7h-.7zM51.2 249.8h.7v.7h-.7zM46.9 255.9h.7v.7h-.7zM44.8 254.3h.7v.7h-.7zM50.1 252.9h.7v.7h-.7zM59.1 242.1h.7v.7h-.7zM48.5 240.6h.7v.7h-.7zM51.7 252.1h.7v.7h-.7zM53.7 246.4h.7v.7h-.7zM48.6 246.7h.7v.7h-.7zM49.2 252.0h.7v.7h-.7zM51.2 240.5h.7v.7h-.7zM49.5 251.5h.7v.7h-.7zM56.5 246.6h.7v.7h-.7zM55.7 242.0h.7v.7h-.7zM50.5 252.8h.7v.7h-.7zM52.9 242.3h.7v.7h-.7zM56.6 243.2h.7v.7h-.7zM57.7 249.0h.7v.7h-.7zM56.1 248.3h.7v.7h-.7z"/>
<path fill="#222" opacity="0.875" d="M59.6 241.1h.7v.7h-.7zM50.8 243.2h.7v.7h-.7zM44.0 243.2h.7v.7h-.7zM47.1 246.8h.7v.7h-.7zM53.8 247.9h.7v.7h-.7zM54.3 245.0h.7v.7h-.7zM55.0 239.8h.7v.7h-.7zM54.1 234.6h.7v.7h-.7zM54.6 236.8h.7v.7h-.7zM55.9 242.2h.7v.7h-.7zM63.7 231.2h.7v.7h-.7zM65.1 226.2h.7v.7h-.7zM48.1 241.3h.7v.7h-.7zM55.5 237.2h.7v.7h-.7zM58.5 238.7h.7v.7h-.7zM56.0 237.9h.7v.7h-.7zM59.3 234.8h.7v.7h-.7zM56.4 239.6h.7v.7h-.7zM45.6 247.4h.7v.7h-.7zM50.0 240.5h.7v.7h-.7zM64.3 237.1h.7v.7h-.7zM44.4 252.7h.7v.7h-.7zM62.9 232.0h.7v.7h-.7zM50.2 249.6h.7v.7h-.7zM57.0 240.8h.7v.7h-.7zM56.0 238.4h.7v.7h-.7zM55.4 244.3h.7v.7h-.7zM59.9 245.0h.7v.7h-.7zM52.9 242.3h.7v.7h-.7zM55.0 240.0h.7v.7h-.7zM48.4 247.5h.7v.7h-.7zM56.5 235.1h.7v.7h-.7zM55.8 240.0h.7v.7h-.7zM49.8 247.9h.7v.7h-.7zM60.9 238.1h.7v.7h-.7zM60.6 232.5h.7v.7h-.7zM63.2 230.3h.7v.7h-.7zM47.2 243.1h.7v.7h-.7zM58.2 242.2h.7v.7h-.7zM59.7 237.1h.7v.7h-.7zM62.7 230.9h.7v.7h-.7zM60.2 235.5h.7v.7h-.7zM56.6 232.9h.7v.7h-.7zM49.7 245.5h.7v.7h-.7zM55.5 237.8h.7v.7h-.7zM54.0 239.7h.7v.7h-.7zM59.3 235.8h.7v.7h-.7zM54.7 242.7h.7v.7h-.7zM51.8 248.9h.7v.7h-.7zM48.4 235.2h.7v.7h-.7zM55.9 241.9h.7v.7h-.7zM57.7 238.3h.7v.7h-.7zM58.8 242.8h.7v.7h-.7zM55.7 242.6h.7v.7h-.7zM46.9 250.7h.7v.7h-.7zM55.5 234.7h.7v.7h-.7zM56.1 242.8h.7v.7h-.7zM53.2 242.6h.7v.7h-.7zM49.3 247.8h.7v.7h-.7zM58.9 238.4h.7v.7h-.7zM56.9 241.8h.7v.7h-.7zM56.5 239.7h.7v.7h-.7zM57.3 242.8h.7v.7h-.7zM61.1 237.2h.7v.7h-.7zM59.4 233.5h.7v.7h-.7zM51.7 248.2h.7v.7h-.7zM59.2 242.3h.7v.7h-.7zM63.3 235.1h.7v.7h-.7zM46.3 250.3h.7v.7h-.7zM62.5 238.5h.7v.7h-.7zM58.1 239.6h.7v.7h-.7zM52.4 241.0h.7v.7h-.7zM50.4 244.0h.7v.7h-.7zM55.5 239.2h.7v.7h-.7zM59.7 241.9h.7v.7h-.7zM54.5 238.2h.7v.7h-.7zM55.9 242.2h.7v.7h-.7zM60.4 234.7h.7v.7h-.7zM53.8 247.1h.7v.7h-.7zM56.9 238.0h.7v.7h-.7zM60.3 234.4h.7v.7h-.7zM56.7 237.9h.7v.7h-.7zM51.6 244.6h.7v.7h-.7zM56.5 236.9h.7v.7h-.7zM53.9 244.1h.7v.7h-.7zM58.4 240.1h.7v.7h-.7zM52.2 243.7h.7v.7h-.7zM56.8 244.3h.7v.7h-.7zM55.1 239.1h.7v.7h-.7zM59.9 241.5h.7v.7h-.7zM54.3 236.0h.7v.7h-.7zM53.6 241.8h.7v.7h-.7zM50.2 245.4h.7v.7h-.7zM51.8 243.7h.7v.7h-.7zM63.2 236.9h.7v.7h-.7zM48.8 242.2h.7v.7h-.7zM53.3 248.9h.7v.7h-.7zM64.4 233.5h.7v.7h-.7zM55.7 238.2h.7v.7h-.7zM58.9 233.7h.7v.7h-.7zM48.6 240.8h.7v.7h-.7zM56.3 239.2h.7v.7h-.7zM52.4 241.2h.7v.7h-.7zM52.7 245.4h.7v.7h-.7zM61.5 233.2h.7v.7h-.7zM49.9 243.4h.7v.7h-.7zM63.1 233.9h.7v.7h-.7zM58.8 237.0h.7v.7h-.7zM49.9 242.8h.7v.7h-.7z"/>
<path fill="#222" opacity="1" d="M51.7 242.5h.7v.7h-.7zM54.3 238.7h.7v.7h-.7zM64.2 236.2h.7v.7h-.7zM52.2 242.7h.7v.7h-.7zM55.9 243.1h.7v.7h-.7zM51.0 248.6h.7v.7h-.7zM56.1 237.5h.7v.7h-.7zM58.6 242.3h.7v.7h-.7zM55.9 241.9h.7v.7h-.7zM60.4 237.4h.7v.7h-.7zM55.4 238.6h.7v.7h-.7z"/>
<rect x="20.5" y="181.2" width="97.80" height="96.60" fill="none" stroke="#1c1c1c" stroke-width="1.1"/>
<text class="a" transform="translate(16.20 287.1) scale(0.9 1)" font-size="5.8" fill="#111" stroke="#111" stroke-width="0.25">10<tspan dy="-3.1" font-size="4.8" dx="0.6">0</tspan></text>
<text class="a" transform="translate(17.80 282.70) rotate(-90) scale(0.9 1)" font-size="5.8" fill="#111" stroke="#111" stroke-width="0.25">10<tspan dy="-3.1" font-size="4.8" dx="0.6">0</tspan></text>
<text class="a" transform="translate(40.65 287.1) scale(0.9 1)" font-size="5.8" fill="#111" stroke="#111" stroke-width="0.25">10<tspan dy="-3.1" font-size="4.8" dx="0.6">1</tspan></text>
<text class="a" transform="translate(17.80 258.55) rotate(-90) scale(0.9 1)" font-size="5.8" fill="#111" stroke="#111" stroke-width="0.25">10<tspan dy="-3.1" font-size="4.8" dx="0.6">1</tspan></text>
<text class="a" transform="translate(65.10 287.1) scale(0.9 1)" font-size="5.8" fill="#111" stroke="#111" stroke-width="0.25">10<tspan dy="-3.1" font-size="4.8" dx="0.6">2</tspan></text>
<text class="a" transform="translate(17.80 234.40) rotate(-90) scale(0.9 1)" font-size="5.8" fill="#111" stroke="#111" stroke-width="0.25">10<tspan dy="-3.1" font-size="4.8" dx="0.6">2</tspan></text>
<text class="a" transform="translate(89.55 287.1) scale(0.9 1)" font-size="5.8" fill="#111" stroke="#111" stroke-width="0.25">10<tspan dy="-3.1" font-size="4.8" dx="0.6">3</tspan></text>
<text class="a" transform="translate(17.80 210.25) rotate(-90) scale(0.9 1)" font-size="5.8" fill="#111" stroke="#111" stroke-width="0.25">10<tspan dy="-3.1" font-size="4.8" dx="0.6">3</tspan></text>
<text class="a" transform="translate(114.00 287.1) scale(0.9 1)" font-size="5.8" fill="#111" stroke="#111" stroke-width="0.25">10<tspan dy="-3.1" font-size="4.8" dx="0.6">4</tspan></text>
<text class="a" transform="translate(17.80 186.10) rotate(-90) scale(0.9 1)" font-size="5.8" fill="#111" stroke="#111" stroke-width="0.25">10<tspan dy="-3.1" font-size="4.8" dx="0.6">4</tspan></text>
<text class="a" x="71.00" y="295.9" font-size="5.1" text-anchor="middle" fill="#222" stroke="#222" stroke-width="0.1">FSC-Height</text>
<text class="a" transform="translate(4.6 228.80) rotate(-90)" font-size="4.9" text-anchor="middle" fill="#222" stroke="#222" stroke-width="0.1">SSC-Height</text>
<rect x="40.6" y="200.5" width="29.9" height="68.8" fill="none" stroke="#1a1a1a" stroke-width="0.8"/>
<text class="s" x="41.6" y="205.7" font-size="4.7" fill="#222" stroke="#222" stroke-width="0.15">R1</text>
<path fill="#222" opacity="0.125" d="M204.0 239.8h.7v.7h-.7zM221.2 227.1h.7v.7h-.7zM210.7 250.6h.7v.7h-.7zM199.7 239.2h.7v.7h-.7zM222.1 214.0h.7v.7h-.7zM206.9 238.6h.7v.7h-.7zM233.6 202.9h.7v.7h-.7zM192.2 274.5h.7v.7h-.7zM208.6 247.3h.7v.7h-.7zM198.3 241.2h.7v.7h-.7zM199.4 248.7h.7v.7h-.7zM218.3 212.0h.7v.7h-.7zM207.7 242.2h.7v.7h-.7zM201.1 242.5h.7v.7h-.7zM183.6 253.4h.7v.7h-.7zM192.9 253.1h.7v.7h-.7zM221.5 231.2h.7v.7h-.7zM222.0 220.4h.7v.7h-.7zM206.8 240.7h.7v.7h-.7zM196.1 259.2h.7v.7h-.7zM185.7 255.6h.7v.7h-.7zM205.5 237.9h.7v.7h-.7zM215.1 243.8h.7v.7h-.7zM182.7 261.9h.7v.7h-.7zM210.5 241.5h.7v.7h-.7zM218.4 223.0h.7v.7h-.7zM203.2 237.0h.7v.7h-.7zM209.5 224.3h.7v.7h-.7zM203.6 239.5h.7v.7h-.7zM218.4 222.9h.7v.7h-.7zM183.7 259.9h.7v.7h-.7zM202.4 233.7h.7v.7h-.7zM194.5 256.7h.7v.7h-.7zM195.1 253.0h.7v.7h-.7zM212.6 227.4h.7v.7h-.7zM218.1 240.2h.7v.7h-.7zM194.6 258.3h.7v.7h-.7zM190.8 249.3h.7v.7h-.7zM191.8 256.5h.7v.7h-.7zM225.4 215.7h.7v.7h-.7zM229.6 212.8h.7v.7h-.7zM223.0 213.5h.7v.7h-.7zM232.4 215.6h.7v.7h-.7zM238.4 210.1h.7v.7h-.7zM229.5 210.1h.7v.7h-.7zM225.4 221.4h.7v.7h-.7zM224.1 216.8h.7v.7h-.7zM216.3 221.9h.7v.7h-.7zM232.0 211.8h.7v.7h-.7zM228.9 207.9h.7v.7h-.7zM231.3 217.7h.7v.7h-.7zM233.0 216.8h.7v.7h-.7zM222.1 219.2h.7v.7h-.7zM237.3 214.4h.7v.7h-.7zM226.8 225.8h.7v.7h-.7zM230.9 210.4h.7v.7h-.7zM184.2 248.7h.7v.7h-.7zM179.2 275.4h.7v.7h-.7zM170.4 260.5h.7v.7h-.7zM181.6 264.9h.7v.7h-.7z"/>
<path fill="#222" opacity="0.25" d="M177.2 264.2h.7v.7h-.7zM177.6 267.3h.7v.7h-.7zM180.8 267.9h.7v.7h-.7zM204.1 268.8h.7v.7h-.7zM188.0 248.0h.7v.7h-.7zM183.9 259.5h.7v.7h-.7zM178.8 262.0h.7v.7h-.7zM195.3 250.1h.7v.7h-.7zM178.0 276.9h.7v.7h-.7zM183.7 266.0h.7v.7h-.7zM204.1 229.5h.7v.7h-.7zM195.2 252.1h.7v.7h-.7zM187.6 238.9h.7v.7h-.7zM182.9 275.7h.7v.7h-.7zM192.6 260.3h.7v.7h-.7zM189.5 252.2h.7v.7h-.7zM183.3 277.1h.7v.7h-.7zM182.6 243.8h.7v.7h-.7zM194.3 247.3h.7v.7h-.7zM200.5 245.0h.7v.7h-.7zM180.3 255.4h.7v.7h-.7zM185.7 277.9h.7v.7h-.7zM193.8 251.3h.7v.7h-.7zM193.6 246.9h.7v.7h-.7zM183.4 268.4h.7v.7h-.7zM188.0 260.9h.7v.7h-.7zM194.7 246.4h.7v.7h-.7zM188.9 258.6h.7v.7h-.7zM196.6 257.8h.7v.7h-.7zM199.1 265.1h.7v.7h-.7zM193.0 266.9h.7v.7h-.7zM181.9 246.4h.7v.7h-.7zM193.3 259.1h.7v.7h-.7zM187.1 258.7h.7v.7h-.7zM187.0 251.1h.7v.7h-.7zM193.6 258.4h.7v.7h-.7zM190.2 276.9h.7v.7h-.7zM183.6 251.3h.7v.7h-.7zM187.4 235.8h.7v.7h-.7zM180.8 252.7h.7v.7h-.7zM184.1 252.3h.7v.7h-.7zM201.7 246.0h.7v.7h-.7zM181.6 271.7h.7v.7h-.7zM188.2 245.6h.7v.7h-.7zM175.5 262.2h.7v.7h-.7zM182.8 260.9h.7v.7h-.7zM204.1 233.1h.7v.7h-.7zM188.3 265.7h.7v.7h-.7zM201.6 255.0h.7v.7h-.7zM182.0 255.0h.7v.7h-.7zM193.7 249.1h.7v.7h-.7zM212.9 239.4h.7v.7h-.7zM190.0 268.0h.7v.7h-.7zM200.6 224.8h.7v.7h-.7zM194.8 244.9h.7v.7h-.7zM184.3 240.6h.7v.7h-.7zM193.0 253.6h.7v.7h-.7zM185.0 266.3h.7v.7h-.7zM179.5 269.1h.7v.7h-.7zM202.6 241.9h.7v.7h-.7zM176.0 261.7h.7v.7h-.7zM192.2 256.2h.7v.7h-.7zM173.7 258.8h.7v.7h-.7zM176.6 256.1h.7v.7h-.7zM188.7 239.8h.7v.7h-.7zM216.8 234.1h.7v.7h-.7zM193.8 247.4h.7v.7h-.7zM166.8 270.0h.7v.7h-.7zM181.2 273.5h.7v.7h-.7zM180.8 274.0h.7v.7h-.7zM187.7 251.6h.7v.7h-.7zM182.5 258.8h.7v.7h-.7zM192.1 263.6h.7v.7h-.7zM204.2 227.8h.7v.7h-.7zM209.9 240.6h.7v.7h-.7zM177.3 257.4h.7v.7h-.7zM203.3 258.6h.7v.7h-.7zM190.7 240.3h.7v.7h-.7zM182.8 257.1h.7v.7h-.7zM200.6 243.3h.7v.7h-.7zM178.4 252.4h.7v.7h-.7zM201.6 242.1h.7v.7h-.7zM216.7 247.3h.7v.7h-.7zM201.3 235.9h.7v.7h-.7zM201.9 233.7h.7v.7h-.7zM211.6 235.4h.7v.7h-.7zM195.8 234.7h.7v.7h-.7zM213.3 243.9h.7v.7h-.7zM173.3 251.7h.7v.7h-.7zM178.0 255.2h.7v.7h-.7zM211.3 236.9h.7v.7h-.7zM203.0 241.2h.7v.7h-.7zM207.4 244.2h.7v.7h-.7zM194.9 253.0h.7v.7h-.7zM203.5 240.7h.7v.7h-.7zM214.9 224.3h.7v.7h-.7zM209.0 217.7h.7v.7h-.7zM185.5 256.8h.7v.7h-.7zM185.6 247.3h.7v.7h-.7zM202.9 235.5h.7v.7h-.7zM210.7 243.4h.7v.7h-.7zM204.5 234.0h.7v.7h-.7zM214.9 241.7h.7v.7h-.7zM214.6 242.6h.7v.7h-.7zM215.8 245.9h.7v.7h-.7zM195.1 237.7h.7v.7h-.7zM231.3 215.6h.7v.7h-.7zM187.7 257.1h.7v.7h-.7zM216.7 237.8h.7v.7h-.7zM186.4 256.1h.7v.7h-.7zM215.8 228.2h.7v.7h-.7zM204.6 238.7h.7v.7h-.7zM212.9 241.0h.7v.7h-.7zM183.7 274.7h.7v.7h-.7zM176.6 255.0h.7v.7h-.7zM194.5 258.4h.7v.7h-.7zM214.9 226.0h.7v.7h-.7zM210.9 229.9h.7v.7h-.7zM190.4 236.2h.7v.7h-.7zM174.0 258.9h.7v.7h-.7zM188.7 255.3h.7v.7h-.7zM208.8 231.8h.7v.7h-.7zM189.7 255.7h.7v.7h-.7zM195.3 236.6h.7v.7h-.7zM210.1 234.4h.7v.7h-.7zM233.2 210.0h.7v.7h-.7zM203.8 234.5h.7v.7h-.7zM229.5 226.1h.7v.7h-.7zM188.0 249.7h.7v.7h-.7zM209.4 222.7h.7v.7h-.7zM209.4 237.3h.7v.7h-.7zM197.2 243.6h.7v.7h-.7zM215.4 228.7h.7v.7h-.7zM201.4 231.3h.7v.7h-.7zM209.9 227.8h.7v.7h-.7zM218.5 238.5h.7v.7h-.7zM190.7 252.2h.7v.7h-.7zM190.7 240.9h.7v.7h-.7zM169.8 264.0h.7v.7h-.7zM192.2 250.0h.7v.7h-.7zM200.6 243.3h.7v.7h-.7zM214.0 238.9h.7v.7h-.7zM194.0 251.1h.7v.7h-.7zM199.0 238.1h.7v.7h-.7zM211.7 258.2h.7v.7h-.7zM220.6 238.5h.7v.7h-.7zM219.0 219.2h.7v.7h-.7zM197.0 228.6h.7v.7h-.7zM193.2 250.1h.7v.7h-.7zM229.6 202.7h.7v.7h-.7zM197.5 245.7h.7v.7h-.7zM201.3 233.7h.7v.7h-.7zM192.0 243.6h.7v.7h-.7zM179.2 256.8h.7v.7h-.7zM184.4 247.7h.7v.7h-.7zM210.2 235.9h.7v.7h-.7zM242.2 216.6h.7v.7h-.7zM190.0 245.4h.7v.7h-.7zM196.9 247.3h.7v.7h-.7zM177.7 263.2h.7v.7h-.7zM241.0 214.9h.7v.7h-.7zM214.6 236.5h.7v.7h-.7zM200.2 233.6h.7v.7h-.7zM193.2 256.6h.7v.7h-.7zM213.0 230.3h.7v.7h-.7zM228.0 222.1h.7v.7h-.7zM214.2 227.6h.7v.7h-.7zM202.4 252.3h.7v.7h-.7zM193.7 236.1h.7v.7h-.7zM212.0 235.4h.7v.7h-.7zM195.7 265.0h.7v.7h-.7zM207.9 242.7h.7v.7h-.7zM191.0 240.7h.7v.7h-.7zM206.4 225.0h.7v.7h-.7zM183.4 250.1h.7v.7h-.7zM199.9 225.4h.7v.7h-.7zM196.3 255.3h.7v.7h-.7zM192.2 254.7h.7v.7h-.7zM192.2 248.7h.7v.7h-.7zM205.2 251.0h.7v.7h-.7zM210.3 240.4h.7v.7h-.7zM215.0 222.0h.7v.7h-.7zM228.6 209.1h.7v.7h-.7zM226.7 212.2h.7v.7h-.7zM237.8 207.3h.7v.7h-.7zM225.1 215.3h.7v.7h-.7zM235.5 214.5h.7v.7h-.7zM219.4 209.4h.7v.7h-.7zM227.7 206.1h.7v.7h-.7zM231.5 209.2h.7v.7h-.7zM220.3 212.3h.7v.7h-.7zM225.4 218.5h.7v.7h-.7zM229.4 213.1h.7v.7h-.7zM224.5 209.2h.7v.7h-.7zM223.2 218.8h.7v.7h-.7zM219.1 211.0h.7v.7h-.7zM229.1 210.5h.7v.7h-.7zM232.5 214.5h.7v.7h-.7zM224.9 211.3h.7v.7h-.7zM229.4 208.7h.7v.7h-.7zM232.7 216.1h.7v.7h-.7zM227.8 220.9h.7v.7h-.7zM240.0 203.4h.7v.7h-.7zM231.2 222.6h.7v.7h-.7zM224.4 216.4h.7v.7h-.7zM217.6 216.5h.7v.7h-.7zM231.4 214.2h.7v.7h-.7zM228.3 212.1h.7v.7h-.7zM220.4 218.5h.7v.7h-.7zM231.5 218.5h.7v.7h-.7zM224.1 219.4h.7v.7h-.7zM227.2 211.8h.7v.7h-.7zM230.9 211.5h.7v.7h-.7zM234.4 211.1h.7v.7h-.7zM182.7 256.7h.7v.7h-.7zM179.8 272.4h.7v.7h-.7zM179.9 277.7h.7v.7h-.7zM185.9 274.8h.7v.7h-.7zM184.7 266.1h.7v.7h-.7zM176.7 255.9h.7v.7h-.7zM173.8 264.2h.7v.7h-.7zM177.4 271.4h.7v.7h-.7zM177.3 256.8h.7v.7h-.7zM189.3 265.9h.7v.7h-.7zM182.2 272.5h.7v.7h-.7zM172.9 271.5h.7v.7h-.7z"/>
<path fill="#222" opacity="0.375" d="M172.8 259.5h.7v.7h-.7zM177.4 266.4h.7v.7h-.7zM186.4 256.0h.7v.7h-.7zM186.4 263.1h.7v.7h-.7zM179.3 263.0h.7v.7h-.7zM179.8 272.0h.7v.7h-.7zM184.4 267.8h.7v.7h-.7zM179.5 266.9h.7v.7h-.7zM179.0 266.1h.7v.7h-.7zM176.5 267.4h.7v.7h-.7zM181.0 268.7h.7v.7h-.7zM178.1 265.8h.7v.7h-.7zM179.8 261.7h.7v.7h-.7zM176.8 258.9h.7v.7h-.7zM180.8 275.3h.7v.7h-.7zM184.7 268.8h.7v.7h-.7zM173.5 256.7h.7v.7h-.7zM181.9 261.2h.7v.7h-.7zM179.4 263.4h.7v.7h-.7zM183.6 262.7h.7v.7h-.7zM179.6 259.2h.7v.7h-.7zM180.2 269.1h.7v.7h-.7zM176.3 269.5h.7v.7h-.7zM177.9 269.0h.7v.7h-.7zM183.6 259.0h.7v.7h-.7zM180.6 252.8h.7v.7h-.7zM177.7 271.1h.7v.7h-.7zM179.3 269.3h.7v.7h-.7zM184.4 263.9h.7v.7h-.7zM179.9 260.3h.7v.7h-.7zM178.9 254.1h.7v.7h-.7zM173.9 266.6h.7v.7h-.7zM177.8 267.7h.7v.7h-.7zM180.7 256.6h.7v.7h-.7zM176.1 276.9h.7v.7h-.7zM177.0 262.6h.7v.7h-.7zM179.4 269.5h.7v.7h-.7zM177.5 274.2h.7v.7h-.7zM180.7 275.5h.7v.7h-.7zM178.3 249.6h.7v.7h-.7zM181.4 267.3h.7v.7h-.7zM179.8 262.9h.7v.7h-.7zM182.5 263.3h.7v.7h-.7zM177.9 257.1h.7v.7h-.7zM184.6 266.3h.7v.7h-.7zM183.0 262.1h.7v.7h-.7zM181.4 270.0h.7v.7h-.7zM182.9 264.2h.7v.7h-.7zM183.1 268.3h.7v.7h-.7zM183.6 254.7h.7v.7h-.7zM186.9 262.9h.7v.7h-.7zM178.8 268.2h.7v.7h-.7zM197.1 242.4h.7v.7h-.7zM210.7 241.1h.7v.7h-.7zM187.8 243.1h.7v.7h-.7zM203.5 246.9h.7v.7h-.7zM175.8 254.2h.7v.7h-.7zM198.7 265.0h.7v.7h-.7zM197.9 248.8h.7v.7h-.7zM187.7 275.1h.7v.7h-.7zM174.8 261.4h.7v.7h-.7zM189.6 260.1h.7v.7h-.7zM176.5 256.5h.7v.7h-.7zM198.0 246.0h.7v.7h-.7zM185.9 256.6h.7v.7h-.7zM194.1 266.3h.7v.7h-.7zM175.6 271.8h.7v.7h-.7zM186.7 241.2h.7v.7h-.7zM178.5 269.2h.7v.7h-.7zM173.6 273.6h.7v.7h-.7zM179.3 276.8h.7v.7h-.7zM184.4 267.5h.7v.7h-.7zM185.4 267.3h.7v.7h-.7zM175.4 249.6h.7v.7h-.7zM187.5 259.9h.7v.7h-.7zM191.2 257.2h.7v.7h-.7zM194.5 232.2h.7v.7h-.7zM201.4 257.5h.7v.7h-.7zM181.7 274.6h.7v.7h-.7zM195.0 246.1h.7v.7h-.7zM176.6 263.0h.7v.7h-.7zM185.9 233.2h.7v.7h-.7zM217.3 239.7h.7v.7h-.7zM195.7 247.8h.7v.7h-.7zM197.7 248.9h.7v.7h-.7zM203.1 260.4h.7v.7h-.7zM177.0 267.6h.7v.7h-.7zM191.8 245.3h.7v.7h-.7zM179.6 271.0h.7v.7h-.7zM200.2 251.3h.7v.7h-.7zM197.5 236.8h.7v.7h-.7zM204.4 259.4h.7v.7h-.7zM194.1 255.4h.7v.7h-.7zM195.9 264.5h.7v.7h-.7zM187.1 246.4h.7v.7h-.7zM181.4 273.2h.7v.7h-.7zM183.6 273.4h.7v.7h-.7zM180.5 264.5h.7v.7h-.7zM186.5 246.1h.7v.7h-.7zM198.1 256.6h.7v.7h-.7zM207.0 230.6h.7v.7h-.7zM190.7 271.5h.7v.7h-.7zM186.0 253.9h.7v.7h-.7zM179.5 267.2h.7v.7h-.7zM181.7 256.5h.7v.7h-.7zM183.9 246.3h.7v.7h-.7zM176.8 274.7h.7v.7h-.7zM193.4 270.5h.7v.7h-.7zM200.9 239.3h.7v.7h-.7zM183.5 270.7h.7v.7h-.7zM184.3 259.9h.7v.7h-.7zM183.4 247.8h.7v.7h-.7zM191.9 266.8h.7v.7h-.7zM181.6 248.0h.7v.7h-.7zM186.1 250.5h.7v.7h-.7zM182.9 257.8h.7v.7h-.7zM202.0 252.7h.7v.7h-.7zM188.3 264.2h.7v.7h-.7zM195.4 244.9h.7v.7h-.7zM203.7 234.0h.7v.7h-.7zM207.6 226.5h.7v.7h-.7zM198.4 253.7h.7v.7h-.7zM185.1 263.1h.7v.7h-.7zM179.2 248.6h.7v.7h-.7zM189.4 267.5h.7v.7h-.7zM173.3 262.2h.7v.7h-.7zM194.6 246.0h.7v.7h-.7zM183.9 271.6h.7v.7h-.7zM183.0 251.6h.7v.7h-.7zM193.7 262.9h.7v.7h-.7zM186.6 277.0h.7v.7h-.7zM195.0 249.2h.7v.7h-.7zM181.5 228.5h.7v.7h-.7zM182.6 234.8h.7v.7h-.7zM177.2 265.2h.7v.7h-.7zM181.0 257.4h.7v.7h-.7zM193.0 259.2h.7v.7h-.7zM186.1 248.8h.7v.7h-.7zM175.1 268.8h.7v.7h-.7zM195.5 241.2h.7v.7h-.7zM191.7 251.7h.7v.7h-.7zM175.8 243.0h.7v.7h-.7zM170.4 260.9h.7v.7h-.7zM193.7 233.6h.7v.7h-.7zM190.9 265.0h.7v.7h-.7zM178.2 246.5h.7v.7h-.7zM197.3 262.6h.7v.7h-.7zM202.6 238.9h.7v.7h-.7zM185.4 258.1h.7v.7h-.7zM193.4 263.3h.7v.7h-.7zM190.5 228.8h.7v.7h-.7zM193.8 247.0h.7v.7h-.7zM203.7 235.9h.7v.7h-.7zM205.2 232.2h.7v.7h-.7zM189.8 258.4h.7v.7h-.7zM192.4 254.0h.7v.7h-.7zM174.0 267.1h.7v.7h-.7zM198.4 253.2h.7v.7h-.7zM185.9 251.7h.7v.7h-.7zM178.3 246.3h.7v.7h-.7zM209.0 233.0h.7v.7h-.7zM207.5 232.2h.7v.7h-.7zM180.8 255.0h.7v.7h-.7zM187.2 258.0h.7v.7h-.7zM182.6 253.7h.7v.7h-.7zM188.9 229.5h.7v.7h-.7zM190.7 233.9h.7v.7h-.7zM178.5 270.5h.7v.7h-.7zM176.5 255.6h.7v.7h-.7zM193.4 253.5h.7v.7h-.7zM199.4 250.6h.7v.7h-.7zM194.5 269.0h.7v.7h-.7zM193.1 259.2h.7v.7h-.7zM176.3 258.6h.7v.7h-.7zM207.7 247.9h.7v.7h-.7zM191.0 258.4h.7v.7h-.7zM176.6 266.8h.7v.7h-.7zM189.0 263.8h.7v.7h-.7zM191.7 251.3h.7v.7h-.7zM174.3 266.3h.7v.7h-.7zM198.7 236.3h.7v.7h-.7zM214.3 228.0h.7v.7h-.7zM187.4 261.3h.7v.7h-.7zM177.9 258.4h.7v.7h-.7zM175.6 263.6h.7v.7h-.7zM173.4 261.2h.7v.7h-.7zM186.3 251.9h.7v.7h-.7zM186.9 262.7h.7v.7h-.7zM183.9 264.3h.7v.7h-.7zM184.1 254.1h.7v.7h-.7zM180.3 262.2h.7v.7h-.7zM207.7 242.5h.7v.7h-.7zM187.3 247.1h.7v.7h-.7zM176.6 249.2h.7v.7h-.7zM178.0 250.8h.7v.7h-.7zM187.0 261.2h.7v.7h-.7zM199.5 246.2h.7v.7h-.7zM191.1 253.1h.7v.7h-.7zM182.4 232.0h.7v.7h-.7zM187.4 258.2h.7v.7h-.7zM198.3 245.5h.7v.7h-.7zM180.6 265.5h.7v.7h-.7zM193.9 246.4h.7v.7h-.7zM187.1 266.1h.7v.7h-.7zM193.1 264.9h.7v.7h-.7zM190.5 243.7h.7v.7h-.7zM186.8 234.0h.7v.7h-.7zM192.7 246.5h.7v.7h-.7zM181.2 265.3h.7v.7h-.7zM215.9 239.2h.7v.7h-.7zM233.8 194.9h.7v.7h-.7zM202.6 247.4h.7v.7h-.7zM200.3 236.5h.7v.7h-.7zM217.9 230.9h.7v.7h-.7zM196.8 257.0h.7v.7h-.7zM202.8 232.1h.7v.7h-.7zM228.6 207.8h.7v.7h-.7zM209.3 223.1h.7v.7h-.7zM199.5 246.6h.7v.7h-.7zM206.5 222.5h.7v.7h-.7zM212.6 217.7h.7v.7h-.7zM186.8 264.0h.7v.7h-.7zM181.7 260.7h.7v.7h-.7zM202.6 258.5h.7v.7h-.7zM188.9 249.6h.7v.7h-.7zM209.0 237.8h.7v.7h-.7zM191.2 234.5h.7v.7h-.7zM204.2 251.2h.7v.7h-.7zM217.8 221.2h.7v.7h-.7zM246.4 202.2h.7v.7h-.7zM233.8 215.5h.7v.7h-.7zM201.8 254.0h.7v.7h-.7zM209.5 247.5h.7v.7h-.7zM207.5 250.3h.7v.7h-.7zM174.4 264.0h.7v.7h-.7zM194.3 264.9h.7v.7h-.7zM215.3 233.5h.7v.7h-.7zM202.8 234.4h.7v.7h-.7zM195.3 254.1h.7v.7h-.7zM216.4 205.4h.7v.7h-.7zM179.9 258.3h.7v.7h-.7zM239.7 201.8h.7v.7h-.7zM207.2 238.7h.7v.7h-.7zM201.3 256.7h.7v.7h-.7zM165.1 264.1h.7v.7h-.7zM243.7 209.8h.7v.7h-.7zM199.0 243.0h.7v.7h-.7zM214.4 235.1h.7v.7h-.7zM220.5 229.8h.7v.7h-.7zM212.6 226.8h.7v.7h-.7zM175.6 269.3h.7v.7h-.7zM206.9 243.0h.7v.7h-.7zM212.4 253.9h.7v.7h-.7zM220.5 233.9h.7v.7h-.7zM194.9 250.7h.7v.7h-.7zM209.9 232.0h.7v.7h-.7zM220.8 231.5h.7v.7h-.7zM206.9 237.5h.7v.7h-.7zM207.9 233.1h.7v.7h-.7zM223.3 232.2h.7v.7h-.7zM207.8 233.4h.7v.7h-.7zM216.2 221.9h.7v.7h-.7zM225.2 221.6h.7v.7h-.7zM215.7 234.1h.7v.7h-.7zM193.4 246.4h.7v.7h-.7zM191.6 251.0h.7v.7h-.7zM207.1 227.9h.7v.7h-.7zM205.4 246.0h.7v.7h-.7zM193.6 248.2h.7v.7h-.7zM206.5 241.6h.7v.7h-.7zM235.0 215.2h.7v.7h-.7zM200.6 251.9h.7v.7h-.7zM216.0 237.0h.7v.7h-.7zM201.1 247.8h.7v.7h-.7zM192.5 238.5h.7v.7h-.7zM234.7 227.0h.7v.7h-.7zM213.8 221.3h.7v.7h-.7zM221.5 230.0h.7v.7h-.7zM208.1 233.4h.7v.7h-.7zM200.5 244.0h.7v.7h-.7zM177.0 248.3h.7v.7h-.7zM235.6 220.4h.7v.7h-.7zM200.6 255.6h.7v.7h-.7zM175.6 267.5h.7v.7h-.7zM228.9 222.1h.7v.7h-.7zM183.6 260.2h.7v.7h-.7zM202.5 258.7h.7v.7h-.7zM180.8 260.1h.7v.7h-.7zM209.1 229.6h.7v.7h-.7zM187.7 244.5h.7v.7h-.7zM210.4 252.2h.7v.7h-.7zM215.7 219.6h.7v.7h-.7zM196.0 258.6h.7v.7h-.7zM201.8 228.8h.7v.7h-.7zM202.8 219.2h.7v.7h-.7zM175.6 260.7h.7v.7h-.7zM188.3 266.3h.7v.7h-.7zM215.2 228.1h.7v.7h-.7zM207.1 235.6h.7v.7h-.7zM190.2 250.1h.7v.7h-.7zM193.0 241.6h.7v.7h-.7zM205.4 249.0h.7v.7h-.7zM211.2 239.2h.7v.7h-.7zM209.0 240.5h.7v.7h-.7zM214.5 221.5h.7v.7h-.7zM206.8 232.1h.7v.7h-.7zM204.9 232.9h.7v.7h-.7zM211.1 234.7h.7v.7h-.7zM197.4 246.2h.7v.7h-.7zM216.7 225.3h.7v.7h-.7zM229.8 216.0h.7v.7h-.7zM222.1 213.8h.7v.7h-.7zM232.5 208.1h.7v.7h-.7zM224.3 212.8h.7v.7h-.7zM234.1 220.5h.7v.7h-.7zM222.8 213.7h.7v.7h-.7zM222.2 216.0h.7v.7h-.7zM235.0 211.2h.7v.7h-.7zM227.3 208.9h.7v.7h-.7zM230.8 217.7h.7v.7h-.7zM230.5 221.9h.7v.7h-.7zM177.2 253.0h.7v.7h-.7zM179.3 259.6h.7v.7h-.7zM178.4 251.7h.7v.7h-.7zM175.2 259.2h.7v.7h-.7zM180.3 271.2h.7v.7h-.7zM181.4 258.8h.7v.7h-.7zM175.7 257.4h.7v.7h-.7zM176.3 261.9h.7v.7h-.7zM180.8 259.0h.7v.7h-.7zM179.6 258.2h.7v.7h-.7zM175.5 254.3h.7v.7h-.7zM182.9 234.3h.7v.7h-.7zM170.4 257.4h.7v.7h-.7zM178.5 272.2h.7v.7h-.7zM182.0 251.9h.7v.7h-.7zM183.1 265.1h.7v.7h-.7zM186.4 268.3h.7v.7h-.7zM180.3 259.0h.7v.7h-.7zM173.9 272.5h.7v.7h-.7zM179.3 257.9h.7v.7h-.7zM176.2 258.8h.7v.7h-.7z"/>
<path fill="#222" opacity="0.5" d="M179.7 267.5h.7v.7h-.7zM181.4 276.4h.7v.7h-.7zM179.3 265.7h.7v.7h-.7zM179.7 261.7h.7v.7h-.7zM181.5 265.4h.7v.7h-.7zM181.5 272.0h.7v.7h-.7zM177.1 268.3h.7v.7h-.7zM181.1 277.9h.7v.7h-.7zM173.7 264.2h.7v.7h-.7zM181.1 265.9h.7v.7h-.7zM176.1 265.8h.7v.7h-.7zM175.3 259.1h.7v.7h-.7zM180.6 255.7h.7v.7h-.7zM177.4 262.8h.7v.7h-.7zM177.2 276.2h.7v.7h-.7zM180.0 260.9h.7v.7h-.7zM176.1 271.9h.7v.7h-.7zM177.9 262.3h.7v.7h-.7zM174.4 269.4h.7v.7h-.7zM185.0 257.1h.7v.7h-.7zM183.7 264.1h.7v.7h-.7zM184.2 274.6h.7v.7h-.7zM179.2 272.0h.7v.7h-.7zM177.9 270.4h.7v.7h-.7zM186.1 256.5h.7v.7h-.7zM182.9 256.1h.7v.7h-.7zM176.9 271.7h.7v.7h-.7zM179.0 276.9h.7v.7h-.7zM175.8 277.8h.7v.7h-.7zM179.0 262.0h.7v.7h-.7zM180.0 273.1h.7v.7h-.7zM174.1 271.2h.7v.7h-.7zM187.3 252.0h.7v.7h-.7zM180.0 272.3h.7v.7h-.7zM174.9 271.0h.7v.7h-.7zM179.8 270.6h.7v.7h-.7zM182.6 265.2h.7v.7h-.7zM182.3 263.2h.7v.7h-.7zM174.7 261.0h.7v.7h-.7zM183.3 263.6h.7v.7h-.7zM179.4 265.1h.7v.7h-.7zM175.1 267.7h.7v.7h-.7zM183.7 262.4h.7v.7h-.7zM179.8 261.3h.7v.7h-.7zM176.4 265.3h.7v.7h-.7zM179.1 252.8h.7v.7h-.7zM174.8 250.3h.7v.7h-.7zM182.9 265.7h.7v.7h-.7zM180.0 270.3h.7v.7h-.7zM178.8 265.0h.7v.7h-.7zM180.3 257.8h.7v.7h-.7zM182.6 260.2h.7v.7h-.7zM177.8 272.9h.7v.7h-.7zM176.7 277.4h.7v.7h-.7zM183.0 261.5h.7v.7h-.7zM190.7 258.0h.7v.7h-.7zM173.1 268.7h.7v.7h-.7zM177.4 258.5h.7v.7h-.7zM180.1 270.0h.7v.7h-.7zM176.4 266.9h.7v.7h-.7zM176.3 259.5h.7v.7h-.7zM188.4 253.8h.7v.7h-.7zM191.9 246.4h.7v.7h-.7zM192.8 244.4h.7v.7h-.7zM195.5 254.2h.7v.7h-.7zM191.4 256.0h.7v.7h-.7zM183.6 252.8h.7v.7h-.7zM172.0 269.1h.7v.7h-.7zM166.9 261.3h.7v.7h-.7zM179.6 259.8h.7v.7h-.7zM180.2 264.9h.7v.7h-.7zM180.8 277.0h.7v.7h-.7zM189.6 256.5h.7v.7h-.7zM181.6 264.8h.7v.7h-.7zM201.9 249.6h.7v.7h-.7zM199.5 275.9h.7v.7h-.7zM176.7 243.2h.7v.7h-.7zM178.7 263.9h.7v.7h-.7zM191.5 265.5h.7v.7h-.7zM200.7 267.9h.7v.7h-.7zM180.4 255.5h.7v.7h-.7zM198.6 263.5h.7v.7h-.7zM210.6 229.2h.7v.7h-.7zM179.4 244.8h.7v.7h-.7zM184.8 267.0h.7v.7h-.7zM186.7 245.1h.7v.7h-.7zM185.4 234.5h.7v.7h-.7zM208.9 245.0h.7v.7h-.7zM187.8 272.9h.7v.7h-.7zM187.5 257.6h.7v.7h-.7zM194.4 248.0h.7v.7h-.7zM192.9 259.0h.7v.7h-.7zM185.8 249.3h.7v.7h-.7zM184.5 270.1h.7v.7h-.7zM192.3 269.2h.7v.7h-.7zM190.4 249.9h.7v.7h-.7zM187.3 271.8h.7v.7h-.7zM185.1 263.4h.7v.7h-.7zM185.1 247.9h.7v.7h-.7zM200.5 253.9h.7v.7h-.7zM206.2 263.2h.7v.7h-.7zM174.2 259.3h.7v.7h-.7zM191.2 257.9h.7v.7h-.7zM178.6 257.6h.7v.7h-.7zM177.9 268.1h.7v.7h-.7zM197.9 252.2h.7v.7h-.7zM194.8 253.6h.7v.7h-.7zM178.1 264.1h.7v.7h-.7zM191.6 241.1h.7v.7h-.7zM186.0 251.3h.7v.7h-.7zM184.5 271.6h.7v.7h-.7zM186.3 275.2h.7v.7h-.7zM190.5 243.0h.7v.7h-.7zM192.9 266.9h.7v.7h-.7zM197.6 266.9h.7v.7h-.7zM189.9 257.5h.7v.7h-.7zM176.4 273.6h.7v.7h-.7zM202.6 239.1h.7v.7h-.7zM182.8 262.3h.7v.7h-.7zM180.3 257.7h.7v.7h-.7zM192.9 241.9h.7v.7h-.7zM180.3 276.5h.7v.7h-.7zM186.9 255.6h.7v.7h-.7zM180.5 255.7h.7v.7h-.7zM180.6 269.3h.7v.7h-.7zM186.2 263.0h.7v.7h-.7zM195.3 256.5h.7v.7h-.7zM183.6 264.2h.7v.7h-.7zM192.0 246.2h.7v.7h-.7zM188.6 261.4h.7v.7h-.7zM187.8 248.4h.7v.7h-.7zM184.6 261.0h.7v.7h-.7zM189.1 246.7h.7v.7h-.7zM189.6 255.0h.7v.7h-.7zM180.2 265.6h.7v.7h-.7zM198.5 250.3h.7v.7h-.7zM177.8 255.6h.7v.7h-.7zM197.0 267.1h.7v.7h-.7zM215.9 260.8h.7v.7h-.7zM178.6 261.7h.7v.7h-.7zM181.9 256.9h.7v.7h-.7zM197.9 249.8h.7v.7h-.7zM192.3 244.7h.7v.7h-.7zM175.1 261.2h.7v.7h-.7zM195.4 268.1h.7v.7h-.7zM184.2 237.2h.7v.7h-.7zM191.4 256.6h.7v.7h-.7zM174.4 255.8h.7v.7h-.7zM186.8 262.1h.7v.7h-.7zM183.4 251.1h.7v.7h-.7zM189.5 257.0h.7v.7h-.7zM196.3 244.3h.7v.7h-.7zM189.3 255.1h.7v.7h-.7zM184.2 244.0h.7v.7h-.7zM181.7 259.8h.7v.7h-.7zM180.3 261.3h.7v.7h-.7zM206.4 236.1h.7v.7h-.7zM187.8 248.2h.7v.7h-.7zM176.0 263.1h.7v.7h-.7zM196.4 245.2h.7v.7h-.7zM174.8 275.8h.7v.7h-.7zM184.6 255.8h.7v.7h-.7zM197.8 261.9h.7v.7h-.7zM176.1 263.7h.7v.7h-.7zM193.0 248.4h.7v.7h-.7zM176.0 247.6h.7v.7h-.7zM187.4 248.4h.7v.7h-.7zM193.8 269.6h.7v.7h-.7zM186.7 241.2h.7v.7h-.7zM191.7 243.3h.7v.7h-.7zM177.0 260.0h.7v.7h-.7zM190.4 265.6h.7v.7h-.7zM209.4 247.8h.7v.7h-.7zM199.6 260.5h.7v.7h-.7zM193.4 259.9h.7v.7h-.7zM198.4 246.5h.7v.7h-.7zM181.9 269.6h.7v.7h-.7zM208.9 253.5h.7v.7h-.7zM188.6 268.3h.7v.7h-.7zM180.5 250.3h.7v.7h-.7zM199.0 245.8h.7v.7h-.7zM188.0 258.4h.7v.7h-.7zM201.7 239.6h.7v.7h-.7zM186.4 277.3h.7v.7h-.7zM175.4 260.8h.7v.7h-.7zM210.6 257.1h.7v.7h-.7zM178.9 259.0h.7v.7h-.7zM186.2 275.2h.7v.7h-.7zM175.5 250.6h.7v.7h-.7zM180.3 247.9h.7v.7h-.7zM185.9 270.5h.7v.7h-.7zM198.5 257.6h.7v.7h-.7zM183.9 254.1h.7v.7h-.7zM187.3 249.3h.7v.7h-.7zM177.0 247.0h.7v.7h-.7zM206.6 230.9h.7v.7h-.7zM190.0 239.0h.7v.7h-.7zM175.1 257.4h.7v.7h-.7zM207.4 247.5h.7v.7h-.7zM189.8 261.9h.7v.7h-.7zM187.0 262.3h.7v.7h-.7zM207.8 232.9h.7v.7h-.7zM196.7 259.0h.7v.7h-.7zM179.8 249.5h.7v.7h-.7zM192.1 238.9h.7v.7h-.7zM180.1 262.4h.7v.7h-.7zM180.9 271.5h.7v.7h-.7zM185.1 269.0h.7v.7h-.7zM182.6 271.3h.7v.7h-.7zM181.2 244.7h.7v.7h-.7zM191.6 228.8h.7v.7h-.7zM200.1 248.0h.7v.7h-.7zM176.2 265.6h.7v.7h-.7zM191.2 246.0h.7v.7h-.7zM196.8 251.0h.7v.7h-.7zM178.6 266.7h.7v.7h-.7zM179.5 252.2h.7v.7h-.7zM203.6 270.5h.7v.7h-.7zM175.7 257.1h.7v.7h-.7zM178.3 244.3h.7v.7h-.7zM185.4 252.2h.7v.7h-.7zM176.8 234.0h.7v.7h-.7zM189.7 260.3h.7v.7h-.7zM194.0 262.4h.7v.7h-.7zM193.3 272.9h.7v.7h-.7zM183.5 265.1h.7v.7h-.7zM186.5 266.8h.7v.7h-.7zM173.4 272.0h.7v.7h-.7zM178.9 253.2h.7v.7h-.7zM175.3 258.4h.7v.7h-.7zM192.7 233.2h.7v.7h-.7zM180.6 268.9h.7v.7h-.7zM173.1 259.7h.7v.7h-.7zM191.5 270.9h.7v.7h-.7zM176.3 255.7h.7v.7h-.7zM186.9 259.7h.7v.7h-.7zM191.7 262.4h.7v.7h-.7zM197.0 263.2h.7v.7h-.7zM202.1 228.1h.7v.7h-.7zM180.5 274.9h.7v.7h-.7zM200.4 237.3h.7v.7h-.7zM185.5 259.9h.7v.7h-.7zM189.0 258.2h.7v.7h-.7zM193.3 252.9h.7v.7h-.7zM190.0 257.3h.7v.7h-.7zM203.6 246.2h.7v.7h-.7zM185.1 263.8h.7v.7h-.7zM178.8 251.7h.7v.7h-.7zM219.4 226.3h.7v.7h-.7zM187.4 260.5h.7v.7h-.7zM212.7 240.7h.7v.7h-.7zM197.4 232.9h.7v.7h-.7zM210.3 226.9h.7v.7h-.7zM208.8 244.2h.7v.7h-.7zM193.0 255.0h.7v.7h-.7zM203.6 247.5h.7v.7h-.7zM202.8 244.1h.7v.7h-.7zM204.5 240.3h.7v.7h-.7zM198.5 247.2h.7v.7h-.7zM196.5 232.3h.7v.7h-.7zM206.3 243.5h.7v.7h-.7zM207.4 237.9h.7v.7h-.7zM222.5 241.3h.7v.7h-.7zM207.9 228.7h.7v.7h-.7zM190.5 250.8h.7v.7h-.7zM191.0 237.4h.7v.7h-.7zM191.4 241.9h.7v.7h-.7zM214.0 233.0h.7v.7h-.7zM183.9 257.6h.7v.7h-.7zM212.7 213.1h.7v.7h-.7zM212.6 229.5h.7v.7h-.7zM219.9 230.2h.7v.7h-.7zM200.7 232.6h.7v.7h-.7zM190.0 250.3h.7v.7h-.7zM212.6 215.1h.7v.7h-.7zM187.6 245.6h.7v.7h-.7zM187.5 254.5h.7v.7h-.7zM222.9 235.9h.7v.7h-.7zM202.3 246.1h.7v.7h-.7zM199.3 238.9h.7v.7h-.7zM203.2 243.1h.7v.7h-.7zM194.4 241.4h.7v.7h-.7zM222.8 228.3h.7v.7h-.7zM208.5 234.9h.7v.7h-.7zM206.7 235.0h.7v.7h-.7zM186.9 248.4h.7v.7h-.7zM210.8 235.8h.7v.7h-.7zM197.6 254.0h.7v.7h-.7zM194.7 223.8h.7v.7h-.7zM201.2 249.8h.7v.7h-.7zM203.3 233.2h.7v.7h-.7zM218.9 231.7h.7v.7h-.7zM221.8 208.1h.7v.7h-.7zM212.8 233.1h.7v.7h-.7zM213.5 222.7h.7v.7h-.7zM187.1 256.4h.7v.7h-.7z"/>
<path fill="#222" opacity="0.5" d="M180.0 276.6h.9v.9h-.9zM172.9 276.8h.9v.9h-.9zM180.4 276.9h.9v.9h-.9zM178.8 274.5h.9v.9h-.9zM178.4 275.9h.9v.9h-.9zM181.7 274.0h.9v.9h-.9zM181.5 277.0h.9v.9h-.9zM181.7 276.4h.9v.9h-.9zM178.5 277.1h.9v.9h-.9z"/>
<path fill="#222" opacity="0.625" d="M180.3 269.7h.7v.7h-.7zM179.4 270.9h.7v.7h-.7zM181.7 261.3h.7v.7h-.7zM182.8 256.3h.7v.7h-.7zM185.8 273.5h.7v.7h-.7zM179.4 273.3h.7v.7h-.7zM176.3 261.1h.7v.7h-.7zM176.7 256.8h.7v.7h-.7zM178.8 260.1h.7v.7h-.7zM179.8 253.4h.7v.7h-.7zM179.6 263.7h.7v.7h-.7zM177.9 276.3h.7v.7h-.7zM178.9 264.3h.7v.7h-.7zM180.1 267.8h.7v.7h-.7zM182.2 272.3h.7v.7h-.7zM175.5 275.1h.7v.7h-.7zM181.9 272.3h.7v.7h-.7zM182.2 254.1h.7v.7h-.7zM185.1 267.4h.7v.7h-.7zM182.2 262.8h.7v.7h-.7zM180.2 263.5h.7v.7h-.7zM179.0 256.1h.7v.7h-.7zM185.9 270.9h.7v.7h-.7zM177.7 265.2h.7v.7h-.7zM181.2 259.2h.7v.7h-.7zM172.9 273.9h.7v.7h-.7zM180.0 265.7h.7v.7h-.7zM178.9 262.2h.7v.7h-.7zM194.3 258.2h.7v.7h-.7zM179.4 268.1h.7v.7h-.7zM178.6 273.9h.7v.7h-.7zM179.4 272.0h.7v.7h-.7zM176.2 269.6h.7v.7h-.7zM178.7 260.2h.7v.7h-.7zM177.8 275.1h.7v.7h-.7zM181.7 262.7h.7v.7h-.7zM177.4 272.7h.7v.7h-.7zM180.0 262.9h.7v.7h-.7zM180.3 270.4h.7v.7h-.7zM179.1 264.2h.7v.7h-.7zM180.7 272.8h.7v.7h-.7zM174.7 272.0h.7v.7h-.7zM186.9 262.2h.7v.7h-.7zM183.8 247.3h.7v.7h-.7zM182.7 276.2h.7v.7h-.7zM178.2 264.1h.7v.7h-.7zM178.7 261.9h.7v.7h-.7zM179.1 262.7h.7v.7h-.7zM189.0 273.5h.7v.7h-.7zM179.0 262.9h.7v.7h-.7zM180.8 269.7h.7v.7h-.7zM173.6 262.7h.7v.7h-.7zM181.1 266.2h.7v.7h-.7zM182.5 265.2h.7v.7h-.7zM181.2 270.7h.7v.7h-.7zM176.7 258.2h.7v.7h-.7zM181.2 263.7h.7v.7h-.7zM198.1 238.8h.7v.7h-.7zM194.9 245.2h.7v.7h-.7zM191.2 258.1h.7v.7h-.7zM182.3 267.2h.7v.7h-.7zM190.8 252.3h.7v.7h-.7zM203.5 246.0h.7v.7h-.7zM174.1 259.9h.7v.7h-.7zM195.2 275.4h.7v.7h-.7zM201.7 241.0h.7v.7h-.7zM177.0 257.5h.7v.7h-.7zM189.5 252.3h.7v.7h-.7zM195.0 247.7h.7v.7h-.7zM193.0 246.8h.7v.7h-.7zM196.0 239.1h.7v.7h-.7zM177.8 266.6h.7v.7h-.7zM194.4 246.1h.7v.7h-.7zM185.2 261.0h.7v.7h-.7zM183.4 250.7h.7v.7h-.7zM175.6 267.9h.7v.7h-.7zM194.0 252.3h.7v.7h-.7zM177.6 269.7h.7v.7h-.7zM187.6 260.6h.7v.7h-.7zM181.0 249.4h.7v.7h-.7zM183.6 244.8h.7v.7h-.7zM182.8 259.3h.7v.7h-.7zM185.3 250.9h.7v.7h-.7zM184.0 259.7h.7v.7h-.7zM174.2 258.1h.7v.7h-.7zM195.2 229.5h.7v.7h-.7zM194.4 244.1h.7v.7h-.7zM196.5 273.4h.7v.7h-.7zM181.4 266.3h.7v.7h-.7zM193.5 269.0h.7v.7h-.7zM191.2 259.4h.7v.7h-.7zM201.7 238.6h.7v.7h-.7zM182.7 252.8h.7v.7h-.7zM185.3 258.5h.7v.7h-.7zM181.5 252.2h.7v.7h-.7zM179.0 246.7h.7v.7h-.7zM177.6 277.3h.7v.7h-.7zM178.7 265.3h.7v.7h-.7zM182.2 256.1h.7v.7h-.7zM179.1 270.2h.7v.7h-.7zM188.0 258.0h.7v.7h-.7zM194.7 253.4h.7v.7h-.7zM182.8 256.5h.7v.7h-.7zM184.2 247.6h.7v.7h-.7zM195.1 258.5h.7v.7h-.7zM182.6 257.1h.7v.7h-.7zM194.8 252.1h.7v.7h-.7zM182.5 255.8h.7v.7h-.7zM180.7 274.9h.7v.7h-.7zM193.6 219.7h.7v.7h-.7zM183.5 276.0h.7v.7h-.7zM179.7 265.3h.7v.7h-.7zM197.3 264.0h.7v.7h-.7zM196.1 232.8h.7v.7h-.7zM188.3 266.2h.7v.7h-.7zM185.3 248.0h.7v.7h-.7zM186.8 251.3h.7v.7h-.7zM200.4 239.4h.7v.7h-.7zM174.2 257.4h.7v.7h-.7zM183.7 265.9h.7v.7h-.7zM176.3 266.0h.7v.7h-.7zM179.1 272.2h.7v.7h-.7zM178.2 268.9h.7v.7h-.7zM194.8 244.2h.7v.7h-.7zM192.3 244.1h.7v.7h-.7zM183.9 241.7h.7v.7h-.7zM203.2 246.1h.7v.7h-.7zM189.1 223.0h.7v.7h-.7zM197.0 272.4h.7v.7h-.7zM184.2 267.8h.7v.7h-.7zM192.0 240.8h.7v.7h-.7zM196.8 234.9h.7v.7h-.7zM167.7 274.6h.7v.7h-.7zM188.9 249.8h.7v.7h-.7zM182.0 273.5h.7v.7h-.7zM194.7 253.6h.7v.7h-.7zM180.2 262.0h.7v.7h-.7zM180.7 264.4h.7v.7h-.7zM184.1 251.1h.7v.7h-.7zM180.2 263.4h.7v.7h-.7zM180.7 258.5h.7v.7h-.7zM189.6 256.7h.7v.7h-.7zM195.6 264.1h.7v.7h-.7zM186.3 265.5h.7v.7h-.7zM188.9 263.9h.7v.7h-.7zM198.4 249.4h.7v.7h-.7zM178.0 270.2h.7v.7h-.7zM194.1 229.7h.7v.7h-.7zM204.1 235.5h.7v.7h-.7zM183.1 266.2h.7v.7h-.7zM191.6 257.3h.7v.7h-.7zM186.6 265.0h.7v.7h-.7zM195.5 244.8h.7v.7h-.7zM178.3 255.4h.7v.7h-.7zM175.6 268.1h.7v.7h-.7zM187.4 263.9h.7v.7h-.7zM201.0 269.8h.7v.7h-.7zM195.1 258.1h.7v.7h-.7zM186.5 263.0h.7v.7h-.7zM180.7 260.7h.7v.7h-.7zM186.2 254.4h.7v.7h-.7zM194.5 262.2h.7v.7h-.7zM190.7 249.5h.7v.7h-.7zM179.2 251.2h.7v.7h-.7zM186.7 268.1h.7v.7h-.7zM188.5 251.1h.7v.7h-.7zM175.9 258.4h.7v.7h-.7zM181.8 248.2h.7v.7h-.7zM182.3 262.8h.7v.7h-.7zM196.7 252.5h.7v.7h-.7zM189.6 251.9h.7v.7h-.7zM198.2 253.0h.7v.7h-.7zM188.3 239.0h.7v.7h-.7zM180.5 253.2h.7v.7h-.7zM173.1 267.0h.7v.7h-.7zM187.6 256.2h.7v.7h-.7zM195.4 265.3h.7v.7h-.7zM178.3 241.6h.7v.7h-.7zM200.8 268.1h.7v.7h-.7zM183.9 252.0h.7v.7h-.7zM190.1 269.5h.7v.7h-.7zM192.0 263.6h.7v.7h-.7zM189.1 244.3h.7v.7h-.7zM189.8 261.3h.7v.7h-.7zM183.6 261.4h.7v.7h-.7zM202.1 247.5h.7v.7h-.7zM196.0 231.5h.7v.7h-.7zM178.6 250.5h.7v.7h-.7zM186.1 263.8h.7v.7h-.7zM176.4 257.6h.7v.7h-.7zM196.5 270.9h.7v.7h-.7zM187.6 254.0h.7v.7h-.7zM192.3 248.9h.7v.7h-.7zM198.3 253.6h.7v.7h-.7zM198.2 254.0h.7v.7h-.7zM198.2 274.6h.7v.7h-.7zM177.5 258.5h.7v.7h-.7zM181.6 247.3h.7v.7h-.7zM204.6 231.9h.7v.7h-.7zM195.1 254.4h.7v.7h-.7zM196.1 236.6h.7v.7h-.7zM178.7 261.6h.7v.7h-.7zM189.0 234.0h.7v.7h-.7zM180.4 261.3h.7v.7h-.7zM195.0 240.3h.7v.7h-.7zM198.7 245.7h.7v.7h-.7zM187.1 258.8h.7v.7h-.7zM186.9 248.4h.7v.7h-.7zM195.3 245.5h.7v.7h-.7zM222.9 227.3h.7v.7h-.7zM174.4 253.1h.7v.7h-.7zM180.9 274.0h.7v.7h-.7zM189.5 252.3h.7v.7h-.7zM193.8 253.9h.7v.7h-.7zM177.8 257.1h.7v.7h-.7z"/>
<path fill="#222" opacity="0.625" d="M178.8 272.6h.9v.9h-.9zM175.8 275.0h.9v.9h-.9zM176.1 277.1h.9v.9h-.9zM173.6 276.2h.9v.9h-.9zM181.4 274.4h.9v.9h-.9zM178.2 275.9h.9v.9h-.9zM178.2 273.4h.9v.9h-.9zM177.1 274.6h.9v.9h-.9zM176.2 274.2h.9v.9h-.9zM178.0 277.7h.9v.9h-.9zM177.2 275.8h.9v.9h-.9zM178.8 277.4h.9v.9h-.9zM181.2 274.4h.9v.9h-.9zM180.4 277.4h.9v.9h-.9zM177.0 275.8h.9v.9h-.9zM179.6 275.2h.9v.9h-.9zM175.6 276.8h.9v.9h-.9zM176.5 277.6h.9v.9h-.9zM174.6 275.5h.9v.9h-.9zM177.8 275.7h.9v.9h-.9zM178.5 273.8h.9v.9h-.9zM176.9 277.3h.9v.9h-.9zM177.4 273.9h.9v.9h-.9zM177.0 277.8h.9v.9h-.9zM180.0 274.0h.9v.9h-.9zM177.3 275.0h.9v.9h-.9zM178.7 272.9h.9v.9h-.9zM178.8 275.0h.9v.9h-.9zM175.7 277.3h.9v.9h-.9zM176.4 275.7h.9v.9h-.9zM181.9 277.8h.9v.9h-.9zM177.7 274.0h.9v.9h-.9zM176.9 273.9h.9v.9h-.9zM183.5 275.8h.9v.9h-.9zM176.7 277.2h.9v.9h-.9zM179.5 276.5h.9v.9h-.9zM180.2 275.6h.9v.9h-.9zM175.3 273.1h.9v.9h-.9zM178.8 273.1h.9v.9h-.9zM176.8 274.2h.9v.9h-.9zM178.6 275.4h.9v.9h-.9zM174.7 276.6h.9v.9h-.9zM180.1 277.8h.9v.9h-.9zM175.7 277.4h.9v.9h-.9zM176.2 277.8h.9v.9h-.9zM177.1 273.7h.9v.9h-.9zM177.2 274.1h.9v.9h-.9zM179.7 276.8h.9v.9h-.9zM178.6 277.4h.9v.9h-.9zM178.3 275.9h.9v.9h-.9zM175.2 275.9h.9v.9h-.9zM178.3 274.7h.9v.9h-.9zM179.9 275.3h.9v.9h-.9zM179.6 275.8h.9v.9h-.9zM176.7 276.3h.9v.9h-.9zM177.1 274.8h.9v.9h-.9zM176.8 274.7h.9v.9h-.9zM180.4 275.4h.9v.9h-.9zM177.7 276.3h.9v.9h-.9zM181.8 276.3h.9v.9h-.9zM181.6 277.2h.9v.9h-.9zM181.3 276.3h.9v.9h-.9zM178.0 276.1h.9v.9h-.9zM175.7 276.3h.9v.9h-.9zM177.8 275.2h.9v.9h-.9zM177.3 277.1h.9v.9h-.9zM178.5 274.5h.9v.9h-.9zM175.5 272.0h.9v.9h-.9zM178.1 276.7h.9v.9h-.9zM176.3 270.9h.9v.9h-.9zM181.2 277.4h.9v.9h-.9zM176.9 277.7h.9v.9h-.9zM182.0 277.6h.9v.9h-.9zM177.7 277.1h.9v.9h-.9zM174.9 275.3h.9v.9h-.9zM176.3 276.2h.9v.9h-.9zM182.2 277.2h.9v.9h-.9zM176.6 276.7h.9v.9h-.9zM177.9 275.4h.9v.9h-.9zM173.2 277.6h.9v.9h-.9zM175.5 273.6h.9v.9h-.9zM180.2 277.2h.9v.9h-.9zM174.2 277.6h.9v.9h-.9zM176.7 277.2h.9v.9h-.9zM180.4 275.9h.9v.9h-.9zM176.1 276.6h.9v.9h-.9zM178.8 275.8h.9v.9h-.9zM174.1 277.6h.9v.9h-.9zM175.8 277.4h.9v.9h-.9zM176.6 275.2h.9v.9h-.9zM180.4 276.6h.9v.9h-.9zM175.1 275.1h.9v.9h-.9zM173.7 274.4h.9v.9h-.9zM183.3 277.2h.9v.9h-.9zM180.0 277.1h.9v.9h-.9zM174.4 275.7h.9v.9h-.9z"/>
<path fill="#222" opacity="0.75" d="M175.7 268.8h.7v.7h-.7zM178.2 267.9h.7v.7h-.7zM176.6 258.9h.7v.7h-.7zM178.5 264.2h.7v.7h-.7zM176.2 263.6h.7v.7h-.7zM173.7 258.6h.7v.7h-.7zM180.9 267.1h.7v.7h-.7zM176.9 266.9h.7v.7h-.7zM177.9 260.2h.7v.7h-.7zM181.1 276.9h.7v.7h-.7zM175.3 270.6h.7v.7h-.7zM180.5 270.8h.7v.7h-.7zM173.7 268.2h.7v.7h-.7zM176.5 272.1h.7v.7h-.7zM188.7 271.2h.7v.7h-.7zM178.7 269.2h.7v.7h-.7zM181.9 268.5h.7v.7h-.7zM181.4 274.0h.7v.7h-.7zM180.2 270.4h.7v.7h-.7zM181.2 270.3h.7v.7h-.7zM173.7 269.1h.7v.7h-.7zM181.1 266.4h.7v.7h-.7zM178.2 270.5h.7v.7h-.7zM178.3 255.0h.7v.7h-.7zM182.9 255.4h.7v.7h-.7zM176.1 268.4h.7v.7h-.7zM178.8 268.1h.7v.7h-.7zM177.3 275.9h.7v.7h-.7zM182.7 271.3h.7v.7h-.7zM175.1 274.2h.7v.7h-.7zM179.8 262.4h.7v.7h-.7zM173.5 262.9h.7v.7h-.7zM182.2 274.4h.7v.7h-.7zM176.2 276.0h.7v.7h-.7zM181.3 275.1h.7v.7h-.7zM180.5 275.5h.7v.7h-.7zM179.1 255.6h.7v.7h-.7zM179.8 269.0h.7v.7h-.7zM177.6 269.2h.7v.7h-.7zM178.8 266.3h.7v.7h-.7zM174.6 276.9h.7v.7h-.7zM179.9 269.8h.7v.7h-.7zM176.6 271.0h.7v.7h-.7zM181.7 268.6h.7v.7h-.7zM185.1 274.5h.7v.7h-.7zM185.4 267.0h.7v.7h-.7zM178.8 266.6h.7v.7h-.7zM184.3 259.6h.7v.7h-.7zM177.6 264.0h.7v.7h-.7zM176.3 267.0h.7v.7h-.7zM186.2 274.7h.7v.7h-.7zM180.5 265.4h.7v.7h-.7zM181.8 261.2h.7v.7h-.7zM178.6 273.3h.7v.7h-.7zM173.4 261.1h.7v.7h-.7zM177.3 270.4h.7v.7h-.7zM175.3 268.4h.7v.7h-.7zM178.7 260.3h.7v.7h-.7zM179.9 270.1h.7v.7h-.7zM178.1 270.2h.7v.7h-.7zM181.3 264.1h.7v.7h-.7zM176.2 260.3h.7v.7h-.7zM177.7 267.8h.7v.7h-.7zM181.0 256.7h.7v.7h-.7zM179.6 274.4h.7v.7h-.7zM205.5 240.1h.7v.7h-.7zM206.0 215.8h.7v.7h-.7zM184.9 270.2h.7v.7h-.7zM187.7 247.7h.7v.7h-.7zM197.7 235.1h.7v.7h-.7zM191.2 261.2h.7v.7h-.7zM179.1 260.7h.7v.7h-.7zM196.5 254.5h.7v.7h-.7zM187.0 245.4h.7v.7h-.7zM182.4 256.3h.7v.7h-.7zM175.5 259.0h.7v.7h-.7zM191.1 251.8h.7v.7h-.7zM174.8 271.9h.7v.7h-.7zM182.1 240.3h.7v.7h-.7zM200.1 249.3h.7v.7h-.7zM183.7 248.4h.7v.7h-.7zM196.9 252.0h.7v.7h-.7zM191.9 265.4h.7v.7h-.7zM195.3 262.4h.7v.7h-.7z"/>
<path fill="#222" opacity="0.75" d="M175.1 274.9h.9v.9h-.9zM174.1 277.4h.9v.9h-.9zM180.3 275.8h.9v.9h-.9zM177.7 277.8h.9v.9h-.9zM178.7 274.6h.9v.9h-.9zM181.3 276.8h.9v.9h-.9zM179.3 277.0h.9v.9h-.9zM178.7 275.8h.9v.9h-.9zM178.6 274.2h.9v.9h-.9zM180.1 277.4h.9v.9h-.9zM177.3 275.2h.9v.9h-.9zM175.2 273.9h.9v.9h-.9zM180.8 277.3h.9v.9h-.9zM173.5 277.8h.9v.9h-.9zM173.0 277.5h.9v.9h-.9zM175.9 274.0h.9v.9h-.9zM181.1 277.6h.9v.9h-.9zM176.9 274.9h.9v.9h-.9zM179.6 274.9h.9v.9h-.9zM177.1 277.2h.9v.9h-.9zM180.5 277.6h.9v.9h-.9zM175.2 277.4h.9v.9h-.9zM177.1 276.6h.9v.9h-.9zM175.4 276.4h.9v.9h-.9zM178.7 274.3h.9v.9h-.9zM173.9 275.5h.9v.9h-.9zM179.0 272.1h.9v.9h-.9zM176.0 276.0h.9v.9h-.9zM183.2 276.7h.9v.9h-.9zM179.8 274.8h.9v.9h-.9zM177.3 276.3h.9v.9h-.9zM177.5 277.6h.9v.9h-.9zM178.5 274.2h.9v.9h-.9zM177.0 276.0h.9v.9h-.9zM176.6 276.6h.9v.9h-.9zM180.0 277.2h.9v.9h-.9zM176.2 273.4h.9v.9h-.9zM183.2 277.2h.9v.9h-.9zM176.1 277.2h.9v.9h-.9zM175.2 273.7h.9v.9h-.9zM179.5 275.0h.9v.9h-.9zM176.2 275.4h.9v.9h-.9zM175.5 272.9h.9v.9h-.9zM176.6 274.5h.9v.9h-.9zM177.7 276.3h.9v.9h-.9zM178.7 276.1h.9v.9h-.9zM177.1 276.6h.9v.9h-.9zM177.9 275.2h.9v.9h-.9zM179.6 273.7h.9v.9h-.9zM179.6 277.4h.9v.9h-.9zM175.1 274.2h.9v.9h-.9zM177.8 275.2h.9v.9h-.9zM181.9 277.8h.9v.9h-.9zM177.8 273.8h.9v.9h-.9zM178.1 275.9h.9v.9h-.9zM176.3 273.6h.9v.9h-.9zM181.3 275.6h.9v.9h-.9zM179.7 275.1h.9v.9h-.9zM177.3 277.5h.9v.9h-.9zM175.7 275.9h.9v.9h-.9zM175.9 273.9h.9v.9h-.9zM181.8 276.3h.9v.9h-.9zM180.1 277.6h.9v.9h-.9zM177.8 276.4h.9v.9h-.9zM177.3 274.2h.9v.9h-.9zM177.5 274.4h.9v.9h-.9zM181.1 274.7h.9v.9h-.9zM181.2 275.0h.9v.9h-.9zM177.6 276.2h.9v.9h-.9zM178.2 275.7h.9v.9h-.9zM175.9 276.4h.9v.9h-.9zM179.8 273.6h.9v.9h-.9zM175.5 275.4h.9v.9h-.9zM181.7 273.9h.9v.9h-.9zM179.1 276.6h.9v.9h-.9zM174.9 275.1h.9v.9h-.9zM178.2 277.7h.9v.9h-.9zM178.3 275.3h.9v.9h-.9zM181.1 277.0h.9v.9h-.9zM176.1 276.5h.9v.9h-.9zM177.9 277.4h.9v.9h-.9z"/>
<path fill="#222" opacity="0.875" d="M179.3 270.2h.7v.7h-.7zM175.5 254.8h.7v.7h-.7zM183.2 271.0h.7v.7h-.7zM175.5 258.5h.7v.7h-.7zM178.6 277.6h.7v.7h-.7zM181.7 256.8h.7v.7h-.7zM177.9 268.6h.7v.7h-.7zM180.7 270.0h.7v.7h-.7zM184.7 260.5h.7v.7h-.7zM174.0 273.9h.7v.7h-.7zM185.2 257.7h.7v.7h-.7zM180.2 265.6h.7v.7h-.7zM174.3 269.1h.7v.7h-.7zM175.4 267.6h.7v.7h-.7zM177.7 251.5h.7v.7h-.7zM179.1 271.7h.7v.7h-.7zM178.7 259.5h.7v.7h-.7z"/>
<path fill="#222" opacity="0.875" d="M177.1 275.2h.9v.9h-.9zM181.6 276.9h.9v.9h-.9zM177.7 274.9h.9v.9h-.9zM174.6 277.6h.9v.9h-.9zM173.7 277.3h.9v.9h-.9zM179.1 277.3h.9v.9h-.9zM177.2 275.0h.9v.9h-.9zM177.3 277.5h.9v.9h-.9zM172.8 276.9h.9v.9h-.9zM175.0 277.0h.9v.9h-.9zM177.9 277.6h.9v.9h-.9zM178.5 277.4h.9v.9h-.9zM177.0 276.6h.9v.9h-.9zM178.3 275.3h.9v.9h-.9zM180.0 277.6h.9v.9h-.9zM177.5 276.3h.9v.9h-.9zM177.4 274.7h.9v.9h-.9zM178.3 276.6h.9v.9h-.9zM176.1 277.3h.9v.9h-.9zM179.7 276.2h.9v.9h-.9zM180.2 276.0h.9v.9h-.9zM178.4 276.8h.9v.9h-.9zM185.6 275.8h.9v.9h-.9zM175.1 277.1h.9v.9h-.9zM181.0 275.0h.9v.9h-.9zM181.1 276.2h.9v.9h-.9zM182.4 275.2h.9v.9h-.9zM179.8 273.7h.9v.9h-.9zM178.2 275.4h.9v.9h-.9zM180.7 275.2h.9v.9h-.9zM174.1 274.7h.9v.9h-.9zM178.2 275.9h.9v.9h-.9zM182.1 275.0h.9v.9h-.9zM177.8 272.6h.9v.9h-.9zM175.3 273.9h.9v.9h-.9zM178.7 276.0h.9v.9h-.9zM179.9 275.7h.9v.9h-.9zM174.9 277.3h.9v.9h-.9zM176.5 275.7h.9v.9h-.9zM174.1 272.7h.9v.9h-.9zM173.3 276.8h.9v.9h-.9zM181.7 274.3h.9v.9h-.9zM177.9 277.7h.9v.9h-.9zM177.5 276.1h.9v.9h-.9zM177.7 277.0h.9v.9h-.9zM178.0 276.3h.9v.9h-.9zM179.0 277.8h.9v.9h-.9zM176.3 276.3h.9v.9h-.9zM177.0 277.2h.9v.9h-.9zM182.9 272.0h.9v.9h-.9zM174.4 277.7h.9v.9h-.9zM176.9 277.8h.9v.9h-.9zM177.5 277.0h.9v.9h-.9zM179.7 275.3h.9v.9h-.9zM174.8 277.6h.9v.9h-.9zM177.4 275.4h.9v.9h-.9zM178.8 273.2h.9v.9h-.9zM179.5 274.8h.9v.9h-.9zM174.6 276.8h.9v.9h-.9zM177.2 273.0h.9v.9h-.9zM178.8 277.3h.9v.9h-.9zM174.7 273.3h.9v.9h-.9zM179.2 272.6h.9v.9h-.9zM177.6 276.4h.9v.9h-.9zM178.7 275.3h.9v.9h-.9zM176.4 273.8h.9v.9h-.9zM175.8 274.8h.9v.9h-.9zM180.3 274.0h.9v.9h-.9zM178.9 276.2h.9v.9h-.9zM179.9 276.4h.9v.9h-.9zM180.3 277.2h.9v.9h-.9zM179.6 272.3h.9v.9h-.9zM177.8 276.8h.9v.9h-.9z"/>
<path fill="#222" opacity="1" d="M175.8 276.3h.9v.9h-.9zM174.7 276.7h.9v.9h-.9zM176.4 275.8h.9v.9h-.9zM179.1 276.3h.9v.9h-.9zM182.0 276.8h.9v.9h-.9zM177.5 276.8h.9v.9h-.9zM180.5 274.2h.9v.9h-.9zM180.0 276.0h.9v.9h-.9zM176.8 275.6h.9v.9h-.9zM177.8 274.5h.9v.9h-.9zM179.8 276.5h.9v.9h-.9zM178.7 274.8h.9v.9h-.9zM180.5 276.3h.9v.9h-.9zM178.7 273.9h.9v.9h-.9zM180.2 275.1h.9v.9h-.9zM180.4 276.2h.9v.9h-.9zM179.2 276.9h.9v.9h-.9zM179.2 274.2h.9v.9h-.9zM179.7 276.4h.9v.9h-.9zM174.4 275.7h.9v.9h-.9zM177.7 272.0h.9v.9h-.9zM177.9 277.2h.9v.9h-.9zM178.2 274.6h.9v.9h-.9zM177.7 277.3h.9v.9h-.9zM176.4 272.2h.9v.9h-.9zM179.4 277.3h.9v.9h-.9zM180.7 275.6h.9v.9h-.9zM179.2 275.1h.9v.9h-.9zM181.1 276.5h.9v.9h-.9zM178.1 273.1h.9v.9h-.9zM178.3 273.4h.9v.9h-.9zM176.1 274.8h.9v.9h-.9zM178.4 277.6h.9v.9h-.9zM173.5 275.3h.9v.9h-.9zM178.4 276.1h.9v.9h-.9zM179.1 275.4h.9v.9h-.9zM177.7 274.2h.9v.9h-.9zM175.0 277.2h.9v.9h-.9zM176.2 277.2h.9v.9h-.9z"/>
<rect x="153" y="181" width="99.60" height="98.30" fill="none" stroke="#1c1c1c" stroke-width="1.1"/>
<text class="a" transform="translate(148.70 288.2) scale(0.9 1)" font-size="5.8" fill="#111" stroke="#111" stroke-width="0.25">10<tspan dy="-3.1" font-size="4.8" dx="0.6">0</tspan></text>
<text class="a" transform="translate(150.30 284.20) rotate(-90) scale(0.9 1)" font-size="5.8" fill="#111" stroke="#111" stroke-width="0.25">10<tspan dy="-3.1" font-size="4.8" dx="0.6">0</tspan></text>
<text class="a" transform="translate(173.60 288.2) scale(0.9 1)" font-size="5.8" fill="#111" stroke="#111" stroke-width="0.25">10<tspan dy="-3.1" font-size="4.8" dx="0.6">1</tspan></text>
<text class="a" transform="translate(150.30 259.62) rotate(-90) scale(0.9 1)" font-size="5.8" fill="#111" stroke="#111" stroke-width="0.25">10<tspan dy="-3.1" font-size="4.8" dx="0.6">1</tspan></text>
<text class="a" transform="translate(198.50 288.2) scale(0.9 1)" font-size="5.8" fill="#111" stroke="#111" stroke-width="0.25">10<tspan dy="-3.1" font-size="4.8" dx="0.6">2</tspan></text>
<text class="a" transform="translate(150.30 235.05) rotate(-90) scale(0.9 1)" font-size="5.8" fill="#111" stroke="#111" stroke-width="0.25">10<tspan dy="-3.1" font-size="4.8" dx="0.6">2</tspan></text>
<text class="a" transform="translate(223.40 288.2) scale(0.9 1)" font-size="5.8" fill="#111" stroke="#111" stroke-width="0.25">10<tspan dy="-3.1" font-size="4.8" dx="0.6">3</tspan></text>
<text class="a" transform="translate(150.30 210.47) rotate(-90) scale(0.9 1)" font-size="5.8" fill="#111" stroke="#111" stroke-width="0.25">10<tspan dy="-3.1" font-size="4.8" dx="0.6">3</tspan></text>
<text class="a" transform="translate(248.30 288.2) scale(0.9 1)" font-size="5.8" fill="#111" stroke="#111" stroke-width="0.25">10<tspan dy="-3.1" font-size="4.8" dx="0.6">4</tspan></text>
<text class="a" transform="translate(150.30 185.90) rotate(-90) scale(0.9 1)" font-size="5.8" fill="#111" stroke="#111" stroke-width="0.25">10<tspan dy="-3.1" font-size="4.8" dx="0.6">4</tspan></text>
<text class="a" x="203.30" y="295.9" font-size="5.1" text-anchor="middle" fill="#222" stroke="#222" stroke-width="0.1">FSC-Height</text>
<text class="a" transform="translate(137.2 229.60) rotate(-90)" font-size="5.0" text-anchor="middle" fill="#222" stroke="#222" stroke-width="0.1">SSC-Height</text>
<rect x="173.4" y="200.8" width="30.6" height="70.4" fill="none" stroke="#1a1a1a" stroke-width="0.8"/>
<text class="s" x="174.3" y="206.1" font-size="4.7" fill="#222" stroke="#222" stroke-width="0.15">R1</text>
<polygon points="214.8,215.5 224.2,203.4 236.2,201.4 243.6,207.4 234.9,218.5 224.8,222.9" fill="none" stroke="#1a1a1a" stroke-width="0.8"/>
<text class="s" x="225.2" y="208.6" font-size="4.7" fill="#222" stroke="#222" stroke-width="0.15">R2</text>
<circle cx="225.6" cy="218.2" r="2.1" fill="#000"/>
<circle cx="231.9" cy="210.9" r="0.8" fill="#222"/><circle cx="230.7" cy="214.9" r="0.8" fill="#333"/><circle cx="233.2" cy="209" r="0.5" fill="#555"/>
<path fill="#222" opacity="0.125" d="M299.7 264.6h.7v.7h-.7zM296.5 271.0h.7v.7h-.7zM296.3 267.7h.7v.7h-.7zM292.2 272.6h.7v.7h-.7zM295.0 270.7h.7v.7h-.7zM298.1 268.9h.7v.7h-.7zM299.9 274.8h.7v.7h-.7zM298.9 275.0h.7v.7h-.7zM296.6 277.8h.7v.7h-.7zM299.1 274.2h.7v.7h-.7zM294.1 272.1h.7v.7h-.7zM295.8 273.2h.7v.7h-.7zM298.7 274.6h.7v.7h-.7zM301.9 266.8h.7v.7h-.7zM293.9 267.1h.7v.7h-.7zM296.9 267.9h.7v.7h-.7zM288.7 271.0h.7v.7h-.7zM306.5 274.0h.7v.7h-.7zM290.6 269.9h.7v.7h-.7zM294.5 274.6h.7v.7h-.7zM288.6 275.7h.7v.7h-.7zM295.5 272.7h.7v.7h-.7zM288.8 272.6h.7v.7h-.7zM298.7 271.8h.7v.7h-.7zM293.6 267.8h.7v.7h-.7zM289.8 277.1h.7v.7h-.7zM295.7 271.9h.7v.7h-.7zM309.8 271.1h.7v.7h-.7zM297.0 270.1h.7v.7h-.7zM290.7 275.1h.7v.7h-.7zM301.5 272.8h.7v.7h-.7zM293.3 268.3h.7v.7h-.7zM294.5 272.8h.7v.7h-.7zM302.8 270.8h.7v.7h-.7zM300.3 273.3h.7v.7h-.7zM304.1 277.5h.7v.7h-.7zM303.9 272.4h.7v.7h-.7zM300.9 271.2h.7v.7h-.7zM298.1 268.8h.7v.7h-.7zM300.0 271.8h.7v.7h-.7zM289.1 271.8h.7v.7h-.7zM296.1 272.2h.7v.7h-.7zM309.4 268.4h.7v.7h-.7zM289.6 265.9h.7v.7h-.7zM290.3 271.0h.7v.7h-.7zM300.6 275.3h.7v.7h-.7zM298.6 277.1h.7v.7h-.7zM290.5 273.1h.7v.7h-.7zM292.7 268.0h.7v.7h-.7zM300.0 271.4h.7v.7h-.7zM289.5 266.5h.7v.7h-.7zM288.9 275.8h.7v.7h-.7zM299.1 270.5h.7v.7h-.7zM305.1 272.9h.7v.7h-.7zM357.1 267.9h.7v.7h-.7zM310.8 262.4h.7v.7h-.7zM344.6 248.2h.7v.7h-.7zM305.2 271.5h.7v.7h-.7zM315.7 245.2h.7v.7h-.7zM337.1 261.3h.7v.7h-.7zM341.8 247.5h.7v.7h-.7zM314.1 253.3h.7v.7h-.7zM348.2 264.8h.7v.7h-.7zM349.1 268.1h.7v.7h-.7zM343.4 268.4h.7v.7h-.7zM310.8 257.1h.7v.7h-.7zM356.3 275.8h.7v.7h-.7zM299.2 269.1h.7v.7h-.7zM301.9 268.0h.7v.7h-.7z"/>
<path fill="#222" opacity="0.25" d="M299.8 265.1h.7v.7h-.7zM294.2 270.9h.7v.7h-.7zM294.1 270.2h.7v.7h-.7zM289.3 269.2h.7v.7h-.7zM309.5 273.0h.7v.7h-.7zM288.0 273.0h.7v.7h-.7zM295.4 269.9h.7v.7h-.7zM289.0 270.9h.7v.7h-.7zM301.9 268.4h.7v.7h-.7zM294.8 275.6h.7v.7h-.7zM295.5 268.8h.7v.7h-.7zM299.9 270.7h.7v.7h-.7zM298.4 268.3h.7v.7h-.7zM307.2 265.6h.7v.7h-.7zM293.3 272.9h.7v.7h-.7zM292.8 274.2h.7v.7h-.7zM296.1 272.9h.7v.7h-.7zM295.9 264.8h.7v.7h-.7zM305.6 269.7h.7v.7h-.7zM301.8 272.3h.7v.7h-.7zM300.2 271.4h.7v.7h-.7zM295.5 265.7h.7v.7h-.7zM298.8 273.5h.7v.7h-.7zM297.4 270.5h.7v.7h-.7zM294.7 268.2h.7v.7h-.7zM296.2 271.2h.7v.7h-.7zM305.7 272.2h.7v.7h-.7zM292.1 276.2h.7v.7h-.7zM304.6 268.6h.7v.7h-.7zM290.1 272.0h.7v.7h-.7zM293.3 274.2h.7v.7h-.7zM295.3 264.8h.7v.7h-.7zM298.3 270.3h.7v.7h-.7zM295.3 266.0h.7v.7h-.7zM288.9 270.0h.7v.7h-.7zM303.4 274.2h.7v.7h-.7zM303.5 267.7h.7v.7h-.7zM305.6 273.9h.7v.7h-.7zM293.8 270.2h.7v.7h-.7zM303.7 273.1h.7v.7h-.7zM298.5 275.6h.7v.7h-.7zM297.5 270.3h.7v.7h-.7zM304.6 274.4h.7v.7h-.7zM303.1 273.4h.7v.7h-.7zM296.9 270.4h.7v.7h-.7zM289.7 274.9h.7v.7h-.7zM294.0 271.9h.7v.7h-.7zM303.1 270.9h.7v.7h-.7zM295.9 265.6h.7v.7h-.7zM299.8 274.7h.7v.7h-.7zM307.8 271.8h.7v.7h-.7zM287.9 272.8h.7v.7h-.7zM305.8 269.4h.7v.7h-.7zM304.2 267.5h.7v.7h-.7zM297.7 276.7h.7v.7h-.7zM297.4 271.1h.7v.7h-.7zM293.6 275.8h.7v.7h-.7zM304.0 269.8h.7v.7h-.7zM301.2 277.5h.7v.7h-.7zM296.5 264.0h.7v.7h-.7zM294.6 273.0h.7v.7h-.7zM297.6 274.5h.7v.7h-.7zM297.6 271.7h.7v.7h-.7zM289.9 271.1h.7v.7h-.7zM302.7 271.5h.7v.7h-.7zM300.0 265.6h.7v.7h-.7zM302.4 269.7h.7v.7h-.7zM305.7 274.5h.7v.7h-.7zM300.2 273.8h.7v.7h-.7zM301.4 271.7h.7v.7h-.7zM298.2 270.5h.7v.7h-.7zM308.9 263.9h.7v.7h-.7zM300.4 273.5h.7v.7h-.7zM293.5 271.8h.7v.7h-.7zM300.6 276.3h.7v.7h-.7zM291.1 272.4h.7v.7h-.7zM298.5 271.5h.7v.7h-.7zM304.2 275.7h.7v.7h-.7zM287.8 269.7h.7v.7h-.7zM297.3 273.5h.7v.7h-.7zM293.6 273.2h.7v.7h-.7zM288.2 269.3h.7v.7h-.7zM290.4 274.6h.7v.7h-.7zM300.4 269.6h.7v.7h-.7zM296.9 272.6h.7v.7h-.7zM295.1 269.2h.7v.7h-.7zM292.1 274.0h.7v.7h-.7zM288.8 272.5h.7v.7h-.7zM305.4 272.7h.7v.7h-.7zM291.8 269.3h.7v.7h-.7zM299.6 262.5h.7v.7h-.7zM291.0 275.8h.7v.7h-.7zM304.4 272.6h.7v.7h-.7zM295.0 269.1h.7v.7h-.7zM295.6 268.8h.7v.7h-.7zM301.4 269.4h.7v.7h-.7zM296.4 275.1h.7v.7h-.7zM295.4 272.8h.7v.7h-.7zM297.3 275.4h.7v.7h-.7zM294.6 271.4h.7v.7h-.7zM299.3 268.2h.7v.7h-.7zM296.0 275.2h.7v.7h-.7zM300.5 275.0h.7v.7h-.7zM299.8 272.0h.7v.7h-.7zM301.6 274.3h.7v.7h-.7zM304.3 267.7h.7v.7h-.7zM294.7 266.0h.7v.7h-.7z"/>
<path fill="#222" opacity="0.375" d="M298.5 272.4h.7v.7h-.7zM302.5 270.4h.7v.7h-.7zM297.5 269.1h.7v.7h-.7zM309.0 270.7h.7v.7h-.7zM296.9 266.9h.7v.7h-.7zM288.7 276.0h.7v.7h-.7zM307.5 275.7h.7v.7h-.7zM304.0 269.2h.7v.7h-.7zM304.2 273.1h.7v.7h-.7zM303.0 269.8h.7v.7h-.7zM300.9 275.8h.7v.7h-.7zM301.3 269.4h.7v.7h-.7zM289.6 273.4h.7v.7h-.7zM299.8 275.6h.7v.7h-.7zM296.2 268.1h.7v.7h-.7zM301.0 266.9h.7v.7h-.7zM288.7 271.0h.7v.7h-.7zM298.6 271.2h.7v.7h-.7zM305.0 268.7h.7v.7h-.7zM296.6 275.0h.7v.7h-.7zM297.1 268.9h.7v.7h-.7zM298.4 270.2h.7v.7h-.7zM294.0 269.1h.7v.7h-.7zM301.0 267.1h.7v.7h-.7zM298.7 269.0h.7v.7h-.7zM294.3 270.8h.7v.7h-.7zM294.0 271.9h.7v.7h-.7zM302.0 270.0h.7v.7h-.7zM292.9 263.3h.7v.7h-.7z"/>
<rect x="286.8" y="185.8" width="98.50" height="93.50" fill="none" stroke="#1c1c1c" stroke-width="1.1"/>
<text class="a" transform="translate(282.50 288.2) scale(0.9 1)" font-size="5.8" fill="#111" stroke="#111" stroke-width="0.25">10<tspan dy="-3.1" font-size="4.8" dx="0.6">0</tspan></text>
<text class="a" transform="translate(284.10 284.20) rotate(-90) scale(0.9 1)" font-size="5.8" fill="#111" stroke="#111" stroke-width="0.25">10<tspan dy="-3.1" font-size="4.8" dx="0.6">0</tspan></text>
<text class="a" transform="translate(307.12 288.2) scale(0.9 1)" font-size="5.8" fill="#111" stroke="#111" stroke-width="0.25">10<tspan dy="-3.1" font-size="4.8" dx="0.6">1</tspan></text>
<text class="a" transform="translate(284.10 260.82) rotate(-90) scale(0.9 1)" font-size="5.8" fill="#111" stroke="#111" stroke-width="0.25">10<tspan dy="-3.1" font-size="4.8" dx="0.6">1</tspan></text>
<text class="a" transform="translate(331.75 288.2) scale(0.9 1)" font-size="5.8" fill="#111" stroke="#111" stroke-width="0.25">10<tspan dy="-3.1" font-size="4.8" dx="0.6">2</tspan></text>
<text class="a" transform="translate(284.10 237.45) rotate(-90) scale(0.9 1)" font-size="5.8" fill="#111" stroke="#111" stroke-width="0.25">10<tspan dy="-3.1" font-size="4.8" dx="0.6">2</tspan></text>
<text class="a" transform="translate(356.38 288.2) scale(0.9 1)" font-size="5.8" fill="#111" stroke="#111" stroke-width="0.25">10<tspan dy="-3.1" font-size="4.8" dx="0.6">3</tspan></text>
<text class="a" transform="translate(284.10 214.08) rotate(-90) scale(0.9 1)" font-size="5.8" fill="#111" stroke="#111" stroke-width="0.25">10<tspan dy="-3.1" font-size="4.8" dx="0.6">3</tspan></text>
<text class="a" transform="translate(381.00 288.2) scale(0.9 1)" font-size="5.8" fill="#111" stroke="#111" stroke-width="0.25">10<tspan dy="-3.1" font-size="4.8" dx="0.6">4</tspan></text>
<text class="a" transform="translate(284.10 190.70) rotate(-90) scale(0.9 1)" font-size="5.8" fill="#111" stroke="#111" stroke-width="0.25">10<tspan dy="-3.1" font-size="4.8" dx="0.6">4</tspan></text>
<text class="a" x="333.80" y="295.9" font-size="4.9" text-anchor="middle" fill="#222" stroke="#222" stroke-width="0.1">IgG PE</text>
<text class="a" transform="translate(273 234.90) rotate(-90)" font-size="5.0" text-anchor="middle" fill="#222" stroke="#222" stroke-width="0.1">Annexin V-FITC</text>
<line x1="311.4" y1="185.8" x2="311.4" y2="279.3" stroke="#222" stroke-width="0.8"/>
<line x1="286.8" y1="255.7" x2="385.3" y2="255.7" stroke="#222" stroke-width="0.8"/>
<path fill="#222" opacity="0.125" d="M455.1 230.3h.7v.7h-.7zM460.6 237.1h.7v.7h-.7zM452.4 228.4h.7v.7h-.7zM465.7 250.8h.7v.7h-.7zM463.5 240.7h.7v.7h-.7zM465.0 245.5h.7v.7h-.7zM469.9 212.6h.7v.7h-.7zM443.8 236.0h.7v.7h-.7zM432.5 211.4h.7v.7h-.7zM425.3 241.2h.7v.7h-.7zM480.4 256.8h.7v.7h-.7zM470.2 232.3h.7v.7h-.7zM480.1 219.5h.7v.7h-.7zM462.7 218.4h.7v.7h-.7zM490.9 222.4h.7v.7h-.7zM495.0 243.5h.7v.7h-.7zM501.2 258.5h.7v.7h-.7zM443.0 224.9h.7v.7h-.7zM464.1 247.3h.7v.7h-.7zM471.9 242.5h.7v.7h-.7zM454.4 233.7h.7v.7h-.7zM475.1 240.3h.7v.7h-.7zM454.8 228.3h.7v.7h-.7zM491.6 262.7h.7v.7h-.7zM477.6 250.0h.7v.7h-.7zM481.5 249.2h.7v.7h-.7zM463.7 229.6h.7v.7h-.7zM469.2 226.7h.7v.7h-.7zM468.7 257.7h.7v.7h-.7zM485.2 229.7h.7v.7h-.7zM429.9 198.8h.7v.7h-.7zM424.7 202.7h.7v.7h-.7zM453.6 215.8h.7v.7h-.7zM461.3 260.1h.7v.7h-.7zM454.6 254.2h.7v.7h-.7zM447.0 246.8h.7v.7h-.7zM460.4 220.1h.7v.7h-.7zM463.7 228.6h.7v.7h-.7zM448.2 270.6h.7v.7h-.7zM490.9 232.7h.7v.7h-.7zM485.7 216.4h.7v.7h-.7zM495.9 236.7h.7v.7h-.7zM498.2 240.8h.7v.7h-.7zM479.5 238.5h.7v.7h-.7zM447.2 245.2h.7v.7h-.7zM468.0 206.9h.7v.7h-.7zM464.2 250.0h.7v.7h-.7zM445.9 243.1h.7v.7h-.7zM460.8 234.5h.7v.7h-.7zM471.8 244.4h.7v.7h-.7zM434.9 213.2h.7v.7h-.7zM501.4 227.3h.7v.7h-.7zM456.9 225.4h.7v.7h-.7zM466.4 243.3h.7v.7h-.7zM473.0 231.3h.7v.7h-.7zM471.9 233.0h.7v.7h-.7zM451.0 228.7h.7v.7h-.7zM431.0 235.7h.7v.7h-.7zM458.5 237.3h.7v.7h-.7zM464.4 213.7h.7v.7h-.7zM446.0 216.1h.7v.7h-.7zM500.4 253.7h.7v.7h-.7zM461.5 243.0h.7v.7h-.7zM448.0 220.2h.7v.7h-.7zM468.0 245.2h.7v.7h-.7zM466.4 223.3h.7v.7h-.7zM456.7 237.0h.7v.7h-.7zM454.9 216.6h.7v.7h-.7zM432.4 237.8h.7v.7h-.7zM455.6 223.4h.7v.7h-.7zM428.8 237.9h.7v.7h-.7zM467.8 242.5h.7v.7h-.7zM485.3 226.2h.7v.7h-.7zM445.9 223.2h.7v.7h-.7zM478.5 222.5h.7v.7h-.7zM455.1 231.4h.7v.7h-.7zM460.9 234.9h.7v.7h-.7zM453.9 227.6h.7v.7h-.7zM464.9 200.5h.7v.7h-.7zM465.2 241.3h.7v.7h-.7zM465.6 248.4h.7v.7h-.7zM461.5 222.8h.7v.7h-.7zM454.8 234.3h.7v.7h-.7zM449.2 233.9h.7v.7h-.7zM470.9 241.7h.7v.7h-.7zM452.6 232.6h.7v.7h-.7zM466.4 238.1h.7v.7h-.7zM462.2 241.4h.7v.7h-.7zM484.2 230.7h.7v.7h-.7zM476.2 236.9h.7v.7h-.7zM466.0 215.4h.7v.7h-.7zM477.9 232.9h.7v.7h-.7zM475.4 247.6h.7v.7h-.7zM449.7 252.0h.7v.7h-.7zM460.4 253.6h.7v.7h-.7zM471.3 230.3h.7v.7h-.7zM481.9 243.5h.7v.7h-.7zM514.1 242.3h.7v.7h-.7zM428.3 231.7h.7v.7h-.7zM478.0 241.1h.7v.7h-.7zM470.1 229.3h.7v.7h-.7zM431.3 215.2h.7v.7h-.7zM486.9 242.4h.7v.7h-.7zM473.0 240.9h.7v.7h-.7zM447.8 235.5h.7v.7h-.7zM454.2 234.8h.7v.7h-.7zM465.2 268.9h.7v.7h-.7zM463.2 233.2h.7v.7h-.7zM484.8 251.3h.7v.7h-.7zM437.0 219.9h.7v.7h-.7zM420.3 222.1h.7v.7h-.7zM466.4 248.7h.7v.7h-.7zM459.0 247.5h.7v.7h-.7zM423.7 221.6h.7v.7h-.7zM443.1 227.7h.7v.7h-.7zM437.9 227.0h.7v.7h-.7zM428.0 248.3h.7v.7h-.7zM438.3 233.1h.7v.7h-.7zM424.2 224.2h.7v.7h-.7zM434.7 240.4h.7v.7h-.7zM433.8 245.0h.7v.7h-.7zM431.9 225.0h.7v.7h-.7zM422.6 229.0h.7v.7h-.7zM432.5 237.6h.7v.7h-.7zM423.9 246.4h.7v.7h-.7zM426.3 248.4h.7v.7h-.7zM429.7 240.6h.7v.7h-.7zM423.3 242.3h.7v.7h-.7zM438.3 237.3h.7v.7h-.7zM420.3 237.9h.7v.7h-.7zM431.2 239.9h.7v.7h-.7zM434.8 243.5h.7v.7h-.7zM428.9 237.0h.7v.7h-.7zM427.9 229.6h.7v.7h-.7zM426.2 232.9h.7v.7h-.7zM426.2 230.4h.7v.7h-.7zM423.5 234.3h.7v.7h-.7zM430.9 214.8h.7v.7h-.7zM438.6 236.1h.7v.7h-.7z"/>
<path fill="#222" opacity="0.25" d="M447.4 231.3h.7v.7h-.7zM436.9 235.2h.7v.7h-.7zM459.4 208.2h.7v.7h-.7zM460.4 213.9h.7v.7h-.7zM450.9 229.1h.7v.7h-.7zM446.4 231.9h.7v.7h-.7zM459.8 209.6h.7v.7h-.7zM454.8 224.3h.7v.7h-.7zM451.1 220.8h.7v.7h-.7zM442.2 228.7h.7v.7h-.7zM466.2 210.5h.7v.7h-.7zM462.3 207.7h.7v.7h-.7zM453.2 222.9h.7v.7h-.7zM441.3 229.5h.7v.7h-.7zM438.5 227.9h.7v.7h-.7zM455.7 220.5h.7v.7h-.7zM455.9 221.5h.7v.7h-.7zM461.4 218.0h.7v.7h-.7zM457.2 213.5h.7v.7h-.7zM455.4 220.9h.7v.7h-.7zM459.8 213.8h.7v.7h-.7zM457.0 220.2h.7v.7h-.7zM450.8 216.6h.7v.7h-.7zM460.9 222.2h.7v.7h-.7zM461.5 209.0h.7v.7h-.7zM455.9 217.7h.7v.7h-.7zM463.1 207.5h.7v.7h-.7zM461.5 218.6h.7v.7h-.7zM465.5 222.5h.7v.7h-.7zM444.4 224.6h.7v.7h-.7zM446.8 228.0h.7v.7h-.7zM455.9 225.4h.7v.7h-.7zM459.2 220.3h.7v.7h-.7zM452.3 221.9h.7v.7h-.7zM444.7 237.4h.7v.7h-.7zM450.5 224.2h.7v.7h-.7zM442.9 230.1h.7v.7h-.7zM454.5 221.4h.7v.7h-.7zM452.1 221.7h.7v.7h-.7zM450.9 216.9h.7v.7h-.7zM466.3 219.1h.7v.7h-.7zM457.5 213.5h.7v.7h-.7zM450.1 220.1h.7v.7h-.7zM459.3 211.8h.7v.7h-.7zM447.1 228.7h.7v.7h-.7zM475.5 205.8h.7v.7h-.7zM439.6 237.1h.7v.7h-.7zM452.6 215.4h.7v.7h-.7zM449.5 231.2h.7v.7h-.7zM444.4 223.6h.7v.7h-.7zM450.8 231.1h.7v.7h-.7zM448.4 229.8h.7v.7h-.7zM443.2 234.8h.7v.7h-.7zM452.5 224.1h.7v.7h-.7zM458.2 216.9h.7v.7h-.7zM446.1 230.7h.7v.7h-.7zM461.1 216.1h.7v.7h-.7zM455.5 223.4h.7v.7h-.7zM454.6 210.1h.7v.7h-.7zM456.1 210.9h.7v.7h-.7zM447.5 233.7h.7v.7h-.7zM448.2 214.5h.7v.7h-.7zM456.6 215.8h.7v.7h-.7zM451.6 220.3h.7v.7h-.7zM457.6 215.4h.7v.7h-.7zM457.2 223.6h.7v.7h-.7zM449.4 219.9h.7v.7h-.7zM452.6 226.5h.7v.7h-.7zM452.8 219.9h.7v.7h-.7zM444.7 227.6h.7v.7h-.7zM452.5 218.6h.7v.7h-.7zM461.9 208.1h.7v.7h-.7zM450.0 225.7h.7v.7h-.7zM455.9 220.8h.7v.7h-.7zM452.6 232.1h.7v.7h-.7zM461.4 245.7h.7v.7h-.7zM454.8 231.6h.7v.7h-.7zM460.3 245.5h.7v.7h-.7zM461.3 247.6h.7v.7h-.7zM459.4 231.2h.7v.7h-.7zM456.2 235.4h.7v.7h-.7zM468.3 241.3h.7v.7h-.7zM448.3 228.9h.7v.7h-.7zM455.7 233.3h.7v.7h-.7zM463.9 240.8h.7v.7h-.7zM455.5 232.4h.7v.7h-.7zM459.5 233.6h.7v.7h-.7zM452.5 234.6h.7v.7h-.7zM451.5 230.2h.7v.7h-.7zM461.2 243.5h.7v.7h-.7zM446.9 222.5h.7v.7h-.7zM454.0 235.3h.7v.7h-.7zM456.8 238.9h.7v.7h-.7zM459.2 232.3h.7v.7h-.7zM462.0 245.3h.7v.7h-.7zM461.0 242.0h.7v.7h-.7zM462.4 240.8h.7v.7h-.7zM452.6 232.3h.7v.7h-.7zM453.0 239.1h.7v.7h-.7zM458.5 237.6h.7v.7h-.7zM451.8 238.8h.7v.7h-.7zM458.3 234.2h.7v.7h-.7zM458.9 240.8h.7v.7h-.7zM455.4 232.2h.7v.7h-.7zM457.7 236.2h.7v.7h-.7zM465.0 246.0h.7v.7h-.7zM469.6 245.4h.7v.7h-.7zM478.0 249.9h.7v.7h-.7zM468.9 250.0h.7v.7h-.7zM475.8 249.1h.7v.7h-.7zM464.1 251.0h.7v.7h-.7zM470.7 245.1h.7v.7h-.7zM489.8 248.3h.7v.7h-.7zM471.8 255.5h.7v.7h-.7zM475.1 248.9h.7v.7h-.7zM465.4 247.0h.7v.7h-.7zM462.8 249.5h.7v.7h-.7zM465.2 244.5h.7v.7h-.7zM469.6 247.7h.7v.7h-.7zM466.5 249.5h.7v.7h-.7zM470.1 248.7h.7v.7h-.7zM478.6 244.2h.7v.7h-.7zM477.5 244.1h.7v.7h-.7zM473.9 250.0h.7v.7h-.7zM465.6 252.4h.7v.7h-.7zM481.2 244.8h.7v.7h-.7zM465.2 248.2h.7v.7h-.7zM476.4 239.8h.7v.7h-.7zM468.8 246.9h.7v.7h-.7zM473.1 251.5h.7v.7h-.7zM468.0 249.9h.7v.7h-.7zM468.8 245.8h.7v.7h-.7zM469.3 249.2h.7v.7h-.7zM462.3 245.0h.7v.7h-.7zM463.6 250.5h.7v.7h-.7zM465.9 249.2h.7v.7h-.7zM475.6 247.4h.7v.7h-.7zM466.5 250.4h.7v.7h-.7zM464.4 247.4h.7v.7h-.7zM480.6 250.9h.7v.7h-.7zM463.9 254.7h.7v.7h-.7zM472.0 245.8h.7v.7h-.7zM471.8 244.2h.7v.7h-.7zM468.6 247.1h.7v.7h-.7zM473.5 246.3h.7v.7h-.7zM478.4 250.3h.7v.7h-.7zM470.6 248.3h.7v.7h-.7zM463.4 246.7h.7v.7h-.7zM469.5 227.8h.7v.7h-.7zM447.5 211.4h.7v.7h-.7zM454.4 237.0h.7v.7h-.7zM502.4 230.8h.7v.7h-.7zM436.6 234.2h.7v.7h-.7zM477.5 243.3h.7v.7h-.7zM467.4 241.5h.7v.7h-.7zM431.3 245.9h.7v.7h-.7zM432.4 224.9h.7v.7h-.7zM483.5 256.7h.7v.7h-.7zM482.6 229.7h.7v.7h-.7zM475.5 226.0h.7v.7h-.7zM488.1 222.9h.7v.7h-.7zM499.9 246.4h.7v.7h-.7zM463.4 224.9h.7v.7h-.7zM467.5 233.9h.7v.7h-.7zM448.9 226.0h.7v.7h-.7zM478.9 246.0h.7v.7h-.7zM458.9 227.1h.7v.7h-.7zM456.7 207.0h.7v.7h-.7zM465.0 227.7h.7v.7h-.7zM462.3 236.7h.7v.7h-.7zM491.2 231.7h.7v.7h-.7zM474.0 244.9h.7v.7h-.7zM458.4 238.9h.7v.7h-.7zM439.4 237.6h.7v.7h-.7zM463.1 201.9h.7v.7h-.7zM466.5 205.8h.7v.7h-.7zM486.6 242.0h.7v.7h-.7zM446.8 220.3h.7v.7h-.7zM497.8 228.7h.7v.7h-.7zM478.9 227.6h.7v.7h-.7zM472.6 234.1h.7v.7h-.7zM470.7 225.3h.7v.7h-.7zM477.2 235.6h.7v.7h-.7zM483.1 215.9h.7v.7h-.7zM456.9 241.5h.7v.7h-.7zM491.1 228.7h.7v.7h-.7zM480.0 236.1h.7v.7h-.7zM467.2 222.0h.7v.7h-.7zM473.3 226.0h.7v.7h-.7zM463.6 223.2h.7v.7h-.7zM451.4 206.7h.7v.7h-.7zM485.6 222.7h.7v.7h-.7zM479.3 247.0h.7v.7h-.7zM481.9 227.3h.7v.7h-.7zM464.0 215.7h.7v.7h-.7zM470.8 240.8h.7v.7h-.7zM451.6 227.2h.7v.7h-.7zM432.9 216.9h.7v.7h-.7zM483.7 238.7h.7v.7h-.7zM427.6 230.2h.7v.7h-.7zM435.4 215.1h.7v.7h-.7zM453.4 234.0h.7v.7h-.7zM445.5 243.8h.7v.7h-.7zM462.0 247.0h.7v.7h-.7zM451.4 226.3h.7v.7h-.7zM446.9 226.1h.7v.7h-.7zM468.4 213.6h.7v.7h-.7zM490.5 231.7h.7v.7h-.7zM456.1 244.3h.7v.7h-.7zM450.7 211.0h.7v.7h-.7zM485.6 236.9h.7v.7h-.7zM455.8 244.7h.7v.7h-.7zM461.2 232.9h.7v.7h-.7zM460.0 231.4h.7v.7h-.7zM443.7 220.2h.7v.7h-.7zM453.8 243.4h.7v.7h-.7zM484.0 243.5h.7v.7h-.7zM421.3 210.0h.7v.7h-.7zM480.3 217.0h.7v.7h-.7zM468.1 234.9h.7v.7h-.7zM456.1 222.1h.7v.7h-.7zM460.4 237.7h.7v.7h-.7zM469.4 251.1h.7v.7h-.7zM463.6 219.6h.7v.7h-.7zM503.8 219.7h.7v.7h-.7zM514.5 247.5h.7v.7h-.7zM420.8 216.7h.7v.7h-.7zM477.8 230.1h.7v.7h-.7zM478.5 222.5h.7v.7h-.7zM463.1 217.8h.7v.7h-.7zM441.8 242.2h.7v.7h-.7zM478.0 228.4h.7v.7h-.7zM457.8 257.3h.7v.7h-.7zM441.4 212.1h.7v.7h-.7zM487.4 249.4h.7v.7h-.7zM450.8 233.7h.7v.7h-.7zM463.2 259.2h.7v.7h-.7zM475.6 242.0h.7v.7h-.7zM466.8 201.7h.7v.7h-.7zM456.5 249.3h.7v.7h-.7zM452.2 214.6h.7v.7h-.7zM446.7 197.3h.7v.7h-.7zM471.0 249.1h.7v.7h-.7zM462.2 221.5h.7v.7h-.7zM488.4 231.9h.7v.7h-.7zM458.3 203.7h.7v.7h-.7zM501.0 241.5h.7v.7h-.7zM447.0 228.7h.7v.7h-.7zM462.1 224.7h.7v.7h-.7zM470.4 240.0h.7v.7h-.7zM460.6 236.3h.7v.7h-.7zM454.0 212.2h.7v.7h-.7zM494.9 257.3h.7v.7h-.7zM470.9 243.4h.7v.7h-.7zM440.5 229.1h.7v.7h-.7zM508.1 216.9h.7v.7h-.7zM478.1 266.5h.7v.7h-.7zM449.9 240.1h.7v.7h-.7zM488.0 234.3h.7v.7h-.7zM481.9 217.1h.7v.7h-.7zM493.4 241.7h.7v.7h-.7zM444.9 223.2h.7v.7h-.7zM481.6 230.6h.7v.7h-.7zM463.5 232.9h.7v.7h-.7zM443.9 226.6h.7v.7h-.7zM482.2 242.8h.7v.7h-.7zM460.0 205.6h.7v.7h-.7zM484.6 231.7h.7v.7h-.7zM472.6 227.0h.7v.7h-.7zM427.2 226.4h.7v.7h-.7zM435.2 232.5h.7v.7h-.7zM426.6 218.4h.7v.7h-.7zM435.9 225.4h.7v.7h-.7zM428.4 223.9h.7v.7h-.7zM428.6 221.4h.7v.7h-.7zM439.1 244.9h.7v.7h-.7zM434.4 231.6h.7v.7h-.7zM428.7 230.0h.7v.7h-.7zM447.2 239.4h.7v.7h-.7zM434.3 252.1h.7v.7h-.7zM430.2 219.9h.7v.7h-.7zM435.2 228.7h.7v.7h-.7zM439.9 262.7h.7v.7h-.7z"/>
<path fill="#222" opacity="0.375" d="M448.6 216.6h.7v.7h-.7zM452.9 216.1h.7v.7h-.7zM446.1 229.4h.7v.7h-.7zM464.8 218.8h.7v.7h-.7zM455.7 227.9h.7v.7h-.7zM456.3 207.1h.7v.7h-.7zM455.5 214.2h.7v.7h-.7zM452.4 226.8h.7v.7h-.7zM461.7 219.6h.7v.7h-.7zM458.8 225.8h.7v.7h-.7zM449.0 216.0h.7v.7h-.7zM458.0 215.1h.7v.7h-.7zM450.6 230.7h.7v.7h-.7zM447.2 235.1h.7v.7h-.7zM453.1 227.3h.7v.7h-.7zM461.0 219.8h.7v.7h-.7zM450.5 220.7h.7v.7h-.7zM459.7 207.0h.7v.7h-.7zM450.6 225.6h.7v.7h-.7zM457.2 216.6h.7v.7h-.7zM464.9 220.4h.7v.7h-.7zM452.0 218.1h.7v.7h-.7zM449.6 218.5h.7v.7h-.7zM443.2 234.5h.7v.7h-.7zM468.4 204.0h.7v.7h-.7zM444.4 229.2h.7v.7h-.7zM462.1 218.9h.7v.7h-.7zM462.2 204.9h.7v.7h-.7zM440.3 234.6h.7v.7h-.7zM470.6 214.0h.7v.7h-.7zM452.1 224.0h.7v.7h-.7zM457.4 231.7h.7v.7h-.7zM467.7 201.2h.7v.7h-.7zM451.4 225.3h.7v.7h-.7zM455.6 232.7h.7v.7h-.7zM448.3 222.5h.7v.7h-.7zM450.3 231.7h.7v.7h-.7zM449.2 222.9h.7v.7h-.7zM469.1 212.0h.7v.7h-.7zM461.3 216.8h.7v.7h-.7zM465.0 213.8h.7v.7h-.7zM450.2 215.2h.7v.7h-.7zM459.7 228.0h.7v.7h-.7zM460.4 206.8h.7v.7h-.7zM446.4 221.7h.7v.7h-.7zM464.5 220.2h.7v.7h-.7zM455.3 220.4h.7v.7h-.7zM457.5 223.4h.7v.7h-.7zM450.7 219.5h.7v.7h-.7zM449.3 225.7h.7v.7h-.7zM452.5 229.0h.7v.7h-.7zM450.2 230.0h.7v.7h-.7zM451.8 217.1h.7v.7h-.7zM465.3 214.3h.7v.7h-.7zM461.4 223.0h.7v.7h-.7zM455.1 219.6h.7v.7h-.7zM463.5 217.2h.7v.7h-.7zM451.1 228.6h.7v.7h-.7zM458.1 221.4h.7v.7h-.7zM443.8 227.9h.7v.7h-.7zM450.8 233.1h.7v.7h-.7zM445.4 236.1h.7v.7h-.7zM435.0 220.2h.7v.7h-.7zM444.6 224.0h.7v.7h-.7zM451.6 215.9h.7v.7h-.7zM456.6 210.1h.7v.7h-.7zM455.8 213.0h.7v.7h-.7zM455.8 217.7h.7v.7h-.7zM468.8 215.6h.7v.7h-.7zM448.9 223.8h.7v.7h-.7zM441.1 238.5h.7v.7h-.7zM465.8 197.3h.7v.7h-.7zM448.6 233.7h.7v.7h-.7zM459.1 214.6h.7v.7h-.7zM456.7 224.2h.7v.7h-.7zM448.4 233.2h.7v.7h-.7zM451.4 221.3h.7v.7h-.7zM461.9 223.5h.7v.7h-.7zM443.1 236.9h.7v.7h-.7zM438.3 243.1h.7v.7h-.7zM443.5 229.9h.7v.7h-.7zM450.7 227.5h.7v.7h-.7zM436.7 233.7h.7v.7h-.7zM460.2 222.9h.7v.7h-.7zM450.6 214.5h.7v.7h-.7zM449.3 217.4h.7v.7h-.7zM453.7 224.5h.7v.7h-.7zM450.8 224.5h.7v.7h-.7zM447.9 232.7h.7v.7h-.7zM456.9 213.3h.7v.7h-.7zM446.3 222.9h.7v.7h-.7zM459.2 235.5h.7v.7h-.7zM455.7 235.2h.7v.7h-.7zM459.1 244.8h.7v.7h-.7zM457.9 239.1h.7v.7h-.7zM458.3 238.0h.7v.7h-.7zM457.4 234.4h.7v.7h-.7zM452.8 229.1h.7v.7h-.7zM465.7 242.4h.7v.7h-.7zM452.6 226.3h.7v.7h-.7zM455.4 234.7h.7v.7h-.7zM463.8 244.3h.7v.7h-.7zM456.5 234.3h.7v.7h-.7zM461.0 241.2h.7v.7h-.7zM458.5 238.7h.7v.7h-.7zM462.9 240.4h.7v.7h-.7zM450.8 221.9h.7v.7h-.7zM462.9 240.9h.7v.7h-.7zM468.2 244.6h.7v.7h-.7zM486.5 243.1h.7v.7h-.7zM473.6 249.9h.7v.7h-.7zM451.8 247.4h.7v.7h-.7zM466.6 244.2h.7v.7h-.7zM470.3 250.9h.7v.7h-.7zM473.9 244.3h.7v.7h-.7zM477.3 250.3h.7v.7h-.7zM473.8 239.3h.7v.7h-.7zM476.5 247.7h.7v.7h-.7zM462.7 246.6h.7v.7h-.7zM476.7 247.6h.7v.7h-.7zM470.0 250.2h.7v.7h-.7zM465.1 250.3h.7v.7h-.7zM471.3 249.0h.7v.7h-.7zM464.0 244.5h.7v.7h-.7zM470.0 251.4h.7v.7h-.7zM468.3 252.4h.7v.7h-.7zM468.2 246.1h.7v.7h-.7zM477.1 246.5h.7v.7h-.7zM468.1 245.2h.7v.7h-.7zM474.7 249.5h.7v.7h-.7zM470.0 242.7h.7v.7h-.7zM480.3 250.0h.7v.7h-.7zM466.2 247.6h.7v.7h-.7zM467.8 245.0h.7v.7h-.7zM470.7 245.0h.7v.7h-.7zM482.1 248.6h.7v.7h-.7zM469.5 249.0h.7v.7h-.7zM478.7 246.6h.7v.7h-.7zM478.4 244.9h.7v.7h-.7zM473.6 243.8h.7v.7h-.7zM469.5 244.8h.7v.7h-.7zM471.9 249.9h.7v.7h-.7zM469.1 247.2h.7v.7h-.7zM475.6 251.6h.7v.7h-.7zM465.0 243.9h.7v.7h-.7zM485.2 245.7h.7v.7h-.7zM461.7 247.9h.7v.7h-.7zM464.6 252.6h.7v.7h-.7zM461.5 249.1h.7v.7h-.7zM461.9 247.0h.7v.7h-.7zM473.9 241.7h.7v.7h-.7zM482.6 243.3h.7v.7h-.7zM466.0 251.0h.7v.7h-.7zM472.2 250.7h.7v.7h-.7zM476.7 253.7h.7v.7h-.7zM470.1 247.6h.7v.7h-.7zM471.9 246.8h.7v.7h-.7zM466.5 255.9h.7v.7h-.7zM473.5 248.1h.7v.7h-.7zM473.5 248.6h.7v.7h-.7zM462.6 246.8h.7v.7h-.7zM474.1 251.1h.7v.7h-.7zM468.2 250.6h.7v.7h-.7zM467.7 252.4h.7v.7h-.7zM469.3 244.6h.7v.7h-.7zM473.3 247.2h.7v.7h-.7zM476.4 255.6h.7v.7h-.7zM433.6 222.5h.7v.7h-.7zM462.9 241.2h.7v.7h-.7zM452.1 261.6h.7v.7h-.7zM447.4 233.8h.7v.7h-.7zM470.9 229.6h.7v.7h-.7zM460.4 249.6h.7v.7h-.7zM477.5 236.0h.7v.7h-.7zM491.9 239.2h.7v.7h-.7zM492.2 219.5h.7v.7h-.7zM462.2 228.6h.7v.7h-.7zM484.6 247.9h.7v.7h-.7zM452.8 222.8h.7v.7h-.7zM436.9 226.6h.7v.7h-.7zM475.3 215.5h.7v.7h-.7zM500.1 237.2h.7v.7h-.7zM435.7 209.9h.7v.7h-.7zM462.4 228.8h.7v.7h-.7zM448.1 203.5h.7v.7h-.7zM467.6 249.3h.7v.7h-.7zM456.0 234.4h.7v.7h-.7zM479.7 240.2h.7v.7h-.7zM483.3 226.9h.7v.7h-.7zM504.3 229.5h.7v.7h-.7zM488.5 222.8h.7v.7h-.7zM451.7 249.6h.7v.7h-.7zM494.1 227.0h.7v.7h-.7zM462.7 222.3h.7v.7h-.7zM495.2 234.8h.7v.7h-.7zM467.8 228.9h.7v.7h-.7zM454.9 236.7h.7v.7h-.7zM477.7 239.8h.7v.7h-.7zM459.3 226.5h.7v.7h-.7zM478.2 243.0h.7v.7h-.7zM499.7 249.4h.7v.7h-.7zM464.0 236.2h.7v.7h-.7zM479.8 239.5h.7v.7h-.7zM458.3 227.1h.7v.7h-.7zM431.1 230.3h.7v.7h-.7zM475.1 223.6h.7v.7h-.7zM470.6 243.8h.7v.7h-.7zM457.8 210.2h.7v.7h-.7zM490.6 224.6h.7v.7h-.7zM501.4 248.7h.7v.7h-.7zM432.5 250.7h.7v.7h-.7zM445.3 221.6h.7v.7h-.7zM465.1 239.8h.7v.7h-.7zM452.8 228.0h.7v.7h-.7zM446.7 234.6h.7v.7h-.7zM445.2 228.8h.7v.7h-.7zM458.3 241.7h.7v.7h-.7zM488.3 257.1h.7v.7h-.7zM428.8 221.7h.7v.7h-.7zM461.3 204.2h.7v.7h-.7zM460.5 237.7h.7v.7h-.7zM481.1 232.3h.7v.7h-.7zM461.3 246.2h.7v.7h-.7zM483.4 226.4h.7v.7h-.7zM452.5 236.2h.7v.7h-.7zM464.3 197.4h.7v.7h-.7zM500.1 225.4h.7v.7h-.7zM445.9 233.2h.7v.7h-.7zM494.2 230.2h.7v.7h-.7zM489.1 247.6h.7v.7h-.7zM459.5 238.2h.7v.7h-.7zM474.1 232.6h.7v.7h-.7zM477.5 237.0h.7v.7h-.7zM476.5 254.6h.7v.7h-.7zM487.1 245.1h.7v.7h-.7zM433.6 223.8h.7v.7h-.7zM476.3 241.3h.7v.7h-.7zM427.0 226.3h.7v.7h-.7zM463.9 243.3h.7v.7h-.7zM463.3 252.3h.7v.7h-.7zM445.1 230.3h.7v.7h-.7zM491.3 232.8h.7v.7h-.7zM481.7 235.5h.7v.7h-.7zM428.6 225.0h.7v.7h-.7zM492.0 232.0h.7v.7h-.7zM489.9 212.7h.7v.7h-.7zM455.1 251.5h.7v.7h-.7zM471.3 245.5h.7v.7h-.7zM471.3 236.2h.7v.7h-.7zM501.2 233.1h.7v.7h-.7zM477.7 246.1h.7v.7h-.7zM458.5 243.2h.7v.7h-.7zM484.0 226.7h.7v.7h-.7zM486.4 244.5h.7v.7h-.7zM471.2 212.0h.7v.7h-.7zM494.3 249.3h.7v.7h-.7zM468.7 239.6h.7v.7h-.7zM472.6 246.8h.7v.7h-.7zM469.8 255.9h.7v.7h-.7zM469.7 255.0h.7v.7h-.7zM468.6 251.0h.7v.7h-.7zM475.3 253.2h.7v.7h-.7zM476.6 231.2h.7v.7h-.7zM482.0 238.7h.7v.7h-.7zM446.0 234.9h.7v.7h-.7zM438.0 225.1h.7v.7h-.7zM465.1 259.7h.7v.7h-.7zM472.0 235.7h.7v.7h-.7zM490.4 233.8h.7v.7h-.7z"/>
<path fill="#222" opacity="0.5" d="M452.9 216.2h.7v.7h-.7zM452.8 215.1h.7v.7h-.7zM459.3 210.6h.7v.7h-.7zM461.5 212.3h.7v.7h-.7zM453.2 214.1h.7v.7h-.7zM460.6 225.8h.7v.7h-.7zM461.4 213.0h.7v.7h-.7zM469.3 206.8h.7v.7h-.7zM442.9 228.3h.7v.7h-.7zM447.2 223.7h.7v.7h-.7zM460.6 216.8h.7v.7h-.7zM450.5 215.9h.7v.7h-.7zM443.9 231.1h.7v.7h-.7zM450.2 225.2h.7v.7h-.7zM452.4 222.7h.7v.7h-.7zM441.3 233.4h.7v.7h-.7zM458.0 218.4h.7v.7h-.7zM458.1 223.7h.7v.7h-.7zM454.1 223.9h.7v.7h-.7zM453.7 221.4h.7v.7h-.7zM457.3 216.7h.7v.7h-.7zM449.7 238.8h.7v.7h-.7zM439.9 243.5h.7v.7h-.7zM445.9 220.3h.7v.7h-.7zM454.5 221.5h.7v.7h-.7zM472.1 211.9h.7v.7h-.7zM459.3 217.3h.7v.7h-.7zM455.7 231.2h.7v.7h-.7zM451.6 223.8h.7v.7h-.7zM445.6 224.3h.7v.7h-.7zM455.7 217.7h.7v.7h-.7zM449.2 230.3h.7v.7h-.7zM448.3 216.2h.7v.7h-.7zM460.2 219.3h.7v.7h-.7zM456.3 218.4h.7v.7h-.7zM465.9 216.6h.7v.7h-.7zM455.0 221.6h.7v.7h-.7zM455.6 216.5h.7v.7h-.7zM456.2 223.9h.7v.7h-.7zM451.4 227.9h.7v.7h-.7zM456.5 216.6h.7v.7h-.7zM446.7 226.9h.7v.7h-.7zM465.2 220.9h.7v.7h-.7zM460.5 218.6h.7v.7h-.7zM458.2 226.2h.7v.7h-.7zM454.4 216.0h.7v.7h-.7zM460.4 206.4h.7v.7h-.7zM463.7 218.5h.7v.7h-.7zM447.6 226.6h.7v.7h-.7zM448.5 238.1h.7v.7h-.7zM444.6 220.1h.7v.7h-.7zM466.7 206.7h.7v.7h-.7zM467.8 202.4h.7v.7h-.7zM461.3 205.6h.7v.7h-.7zM451.6 226.2h.7v.7h-.7zM439.6 230.1h.7v.7h-.7zM447.5 226.6h.7v.7h-.7zM450.5 225.3h.7v.7h-.7zM443.6 231.6h.7v.7h-.7zM454.5 221.3h.7v.7h-.7zM463.1 218.3h.7v.7h-.7zM450.4 218.8h.7v.7h-.7zM448.5 229.3h.7v.7h-.7zM451.5 222.3h.7v.7h-.7zM442.4 223.8h.7v.7h-.7zM455.1 221.8h.7v.7h-.7zM445.8 222.1h.7v.7h-.7zM462.3 217.9h.7v.7h-.7zM455.2 215.6h.7v.7h-.7zM445.6 233.6h.7v.7h-.7zM473.0 196.0h.7v.7h-.7zM442.1 230.1h.7v.7h-.7zM452.0 215.6h.7v.7h-.7zM452.2 215.9h.7v.7h-.7zM466.3 207.1h.7v.7h-.7zM450.7 217.3h.7v.7h-.7zM453.2 217.1h.7v.7h-.7zM469.3 206.9h.7v.7h-.7zM457.5 222.4h.7v.7h-.7zM450.3 222.9h.7v.7h-.7zM449.7 221.9h.7v.7h-.7zM473.3 212.8h.7v.7h-.7zM445.5 220.2h.7v.7h-.7zM453.9 219.8h.7v.7h-.7zM459.8 212.3h.7v.7h-.7zM459.4 237.5h.7v.7h-.7zM462.7 240.1h.7v.7h-.7zM455.6 240.5h.7v.7h-.7zM463.8 249.2h.7v.7h-.7zM460.0 232.3h.7v.7h-.7zM459.4 235.9h.7v.7h-.7zM460.6 237.1h.7v.7h-.7zM458.0 231.9h.7v.7h-.7zM455.5 232.5h.7v.7h-.7zM466.7 249.4h.7v.7h-.7zM462.3 239.0h.7v.7h-.7zM463.7 241.7h.7v.7h-.7zM462.1 236.5h.7v.7h-.7zM469.2 241.2h.7v.7h-.7zM447.8 231.3h.7v.7h-.7zM464.6 247.9h.7v.7h-.7zM477.8 249.7h.7v.7h-.7zM474.0 245.4h.7v.7h-.7zM487.5 244.0h.7v.7h-.7zM466.6 252.6h.7v.7h-.7zM456.4 254.0h.7v.7h-.7zM464.8 247.8h.7v.7h-.7zM471.1 244.6h.7v.7h-.7zM461.0 251.6h.7v.7h-.7zM465.5 250.5h.7v.7h-.7zM475.5 248.5h.7v.7h-.7zM462.7 245.7h.7v.7h-.7zM465.9 249.9h.7v.7h-.7zM456.9 251.4h.7v.7h-.7zM461.6 249.3h.7v.7h-.7zM482.8 246.0h.7v.7h-.7zM467.8 245.5h.7v.7h-.7zM456.4 249.3h.7v.7h-.7zM475.8 249.0h.7v.7h-.7zM485.7 247.8h.7v.7h-.7zM471.1 249.0h.7v.7h-.7zM473.5 246.6h.7v.7h-.7zM473.3 254.9h.7v.7h-.7zM458.3 252.5h.7v.7h-.7zM470.1 251.2h.7v.7h-.7zM474.1 244.4h.7v.7h-.7zM472.8 254.5h.7v.7h-.7zM459.0 249.8h.7v.7h-.7zM472.5 251.7h.7v.7h-.7zM476.0 247.8h.7v.7h-.7zM467.3 245.5h.7v.7h-.7zM472.0 242.1h.7v.7h-.7zM477.7 246.2h.7v.7h-.7zM470.8 246.7h.7v.7h-.7zM467.6 250.3h.7v.7h-.7zM467.5 246.4h.7v.7h-.7zM476.3 253.0h.7v.7h-.7zM468.4 245.0h.7v.7h-.7zM475.2 246.2h.7v.7h-.7zM471.2 243.4h.7v.7h-.7zM471.7 252.9h.7v.7h-.7zM476.3 245.2h.7v.7h-.7zM461.1 248.4h.7v.7h-.7zM469.4 246.5h.7v.7h-.7zM471.9 245.8h.7v.7h-.7zM460.0 247.1h.7v.7h-.7zM468.9 248.8h.7v.7h-.7zM473.2 245.0h.7v.7h-.7zM465.3 248.5h.7v.7h-.7zM475.0 246.7h.7v.7h-.7zM478.1 246.9h.7v.7h-.7zM473.3 247.8h.7v.7h-.7z"/>
<path fill="#222" opacity="0.625" d="M448.2 236.2h.7v.7h-.7zM447.9 217.7h.7v.7h-.7zM452.2 224.2h.7v.7h-.7zM434.9 229.2h.7v.7h-.7zM444.8 226.1h.7v.7h-.7zM455.9 228.8h.7v.7h-.7zM455.2 219.1h.7v.7h-.7zM447.1 224.0h.7v.7h-.7zM455.1 216.8h.7v.7h-.7zM450.9 234.3h.7v.7h-.7zM448.3 232.2h.7v.7h-.7zM459.1 221.0h.7v.7h-.7zM455.1 224.8h.7v.7h-.7zM452.2 221.6h.7v.7h-.7zM464.5 213.2h.7v.7h-.7zM454.9 211.1h.7v.7h-.7zM453.3 221.1h.7v.7h-.7zM451.2 225.0h.7v.7h-.7zM441.9 230.3h.7v.7h-.7zM450.9 225.0h.7v.7h-.7zM451.5 216.5h.7v.7h-.7zM465.4 216.4h.7v.7h-.7zM456.2 217.0h.7v.7h-.7zM448.4 224.0h.7v.7h-.7zM466.1 209.2h.7v.7h-.7zM451.0 223.3h.7v.7h-.7zM439.5 246.7h.7v.7h-.7zM439.7 228.5h.7v.7h-.7zM446.6 220.6h.7v.7h-.7zM454.5 212.3h.7v.7h-.7zM446.5 229.5h.7v.7h-.7zM435.8 234.1h.7v.7h-.7zM455.4 208.7h.7v.7h-.7zM450.4 221.3h.7v.7h-.7zM451.3 220.4h.7v.7h-.7zM453.9 214.3h.7v.7h-.7zM461.1 219.7h.7v.7h-.7zM469.2 210.2h.7v.7h-.7zM454.4 227.2h.7v.7h-.7zM451.4 220.7h.7v.7h-.7zM461.1 219.4h.7v.7h-.7zM447.0 230.1h.7v.7h-.7zM441.8 230.0h.7v.7h-.7zM459.7 224.1h.7v.7h-.7zM446.5 231.0h.7v.7h-.7zM447.3 223.8h.7v.7h-.7zM450.2 231.4h.7v.7h-.7zM456.6 204.1h.7v.7h-.7zM443.0 243.6h.7v.7h-.7zM455.3 217.1h.7v.7h-.7zM445.8 233.1h.7v.7h-.7zM456.2 219.2h.7v.7h-.7zM457.4 229.6h.7v.7h-.7zM447.5 220.4h.7v.7h-.7zM459.4 211.2h.7v.7h-.7zM452.1 222.4h.7v.7h-.7zM452.5 227.7h.7v.7h-.7zM451.3 227.3h.7v.7h-.7zM448.6 227.9h.7v.7h-.7zM448.5 225.4h.7v.7h-.7zM453.0 228.5h.7v.7h-.7zM450.6 222.2h.7v.7h-.7zM452.0 229.6h.7v.7h-.7zM454.4 215.8h.7v.7h-.7zM446.7 224.7h.7v.7h-.7zM449.3 219.9h.7v.7h-.7zM462.9 220.7h.7v.7h-.7zM436.7 235.3h.7v.7h-.7zM471.7 213.5h.7v.7h-.7zM460.7 225.2h.7v.7h-.7zM461.7 219.6h.7v.7h-.7zM447.2 223.5h.7v.7h-.7zM453.4 219.8h.7v.7h-.7zM435.6 239.8h.7v.7h-.7zM456.8 226.0h.7v.7h-.7zM466.2 223.5h.7v.7h-.7zM461.8 217.4h.7v.7h-.7zM455.5 209.0h.7v.7h-.7zM479.6 240.0h.7v.7h-.7zM477.6 247.6h.7v.7h-.7zM470.5 252.7h.7v.7h-.7zM475.4 249.2h.7v.7h-.7zM478.4 248.8h.7v.7h-.7zM471.7 244.9h.7v.7h-.7zM480.3 245.1h.7v.7h-.7zM471.8 249.3h.7v.7h-.7zM468.8 251.1h.7v.7h-.7zM491.3 244.2h.7v.7h-.7zM461.7 249.4h.7v.7h-.7zM482.7 251.4h.7v.7h-.7zM471.6 243.7h.7v.7h-.7zM474.2 242.2h.7v.7h-.7zM468.1 244.0h.7v.7h-.7zM466.0 251.0h.7v.7h-.7zM466.4 250.8h.7v.7h-.7zM469.9 244.3h.7v.7h-.7zM473.8 248.3h.7v.7h-.7zM464.1 248.5h.7v.7h-.7zM480.7 253.8h.7v.7h-.7zM474.0 245.4h.7v.7h-.7zM468.2 244.6h.7v.7h-.7zM473.7 242.0h.7v.7h-.7zM469.8 251.7h.7v.7h-.7zM463.6 244.6h.7v.7h-.7zM470.2 247.5h.7v.7h-.7z"/>
<path fill="#222" opacity="0.75" d="M459.4 210.0h.7v.7h-.7zM447.0 228.8h.7v.7h-.7zM455.2 217.8h.7v.7h-.7zM447.5 230.3h.7v.7h-.7zM465.1 208.9h.7v.7h-.7zM440.5 234.8h.7v.7h-.7zM457.3 218.0h.7v.7h-.7zM462.6 209.4h.7v.7h-.7zM444.9 223.6h.7v.7h-.7zM452.6 219.4h.7v.7h-.7zM443.4 239.1h.7v.7h-.7zM442.5 238.9h.7v.7h-.7z"/>
<rect x="418.2" y="184.2" width="98.60" height="95.10" fill="none" stroke="#1c1c1c" stroke-width="1.1"/>
<text class="a" transform="translate(413.90 288.2) scale(0.9 1)" font-size="5.8" fill="#111" stroke="#111" stroke-width="0.25">10<tspan dy="-3.1" font-size="4.8" dx="0.6">0</tspan></text>
<text class="a" transform="translate(415.50 284.20) rotate(-90) scale(0.9 1)" font-size="5.8" fill="#111" stroke="#111" stroke-width="0.25">10<tspan dy="-3.1" font-size="4.8" dx="0.6">0</tspan></text>
<text class="a" transform="translate(438.55 288.2) scale(0.9 1)" font-size="5.8" fill="#111" stroke="#111" stroke-width="0.25">10<tspan dy="-3.1" font-size="4.8" dx="0.6">1</tspan></text>
<text class="a" transform="translate(415.50 260.43) rotate(-90) scale(0.9 1)" font-size="5.8" fill="#111" stroke="#111" stroke-width="0.25">10<tspan dy="-3.1" font-size="4.8" dx="0.6">1</tspan></text>
<text class="a" transform="translate(463.20 288.2) scale(0.9 1)" font-size="5.8" fill="#111" stroke="#111" stroke-width="0.25">10<tspan dy="-3.1" font-size="4.8" dx="0.6">2</tspan></text>
<text class="a" transform="translate(415.50 236.65) rotate(-90) scale(0.9 1)" font-size="5.8" fill="#111" stroke="#111" stroke-width="0.25">10<tspan dy="-3.1" font-size="4.8" dx="0.6">2</tspan></text>
<text class="a" transform="translate(487.85 288.2) scale(0.9 1)" font-size="5.8" fill="#111" stroke="#111" stroke-width="0.25">10<tspan dy="-3.1" font-size="4.8" dx="0.6">3</tspan></text>
<text class="a" transform="translate(415.50 212.88) rotate(-90) scale(0.9 1)" font-size="5.8" fill="#111" stroke="#111" stroke-width="0.25">10<tspan dy="-3.1" font-size="4.8" dx="0.6">3</tspan></text>
<text class="a" transform="translate(512.50 288.2) scale(0.9 1)" font-size="5.8" fill="#111" stroke="#111" stroke-width="0.25">10<tspan dy="-3.1" font-size="4.8" dx="0.6">4</tspan></text>
<text class="a" transform="translate(415.50 189.10) rotate(-90) scale(0.9 1)" font-size="5.8" fill="#111" stroke="#111" stroke-width="0.25">10<tspan dy="-3.1" font-size="4.8" dx="0.6">4</tspan></text>
<text class="a" x="468.80" y="295.9" font-size="5.2" text-anchor="middle" fill="#222" stroke="#222" stroke-width="0.1">EPCR PE</text>
<text class="a" transform="translate(405.6 232.60) rotate(-90)" font-size="5.1" text-anchor="middle" fill="#222" stroke="#222" stroke-width="0.1">Annexin V-FITC</text>
<line x1="442.4" y1="184.2" x2="442.4" y2="279.3" stroke="#222" stroke-width="0.8"/>
</svg></body></html>
